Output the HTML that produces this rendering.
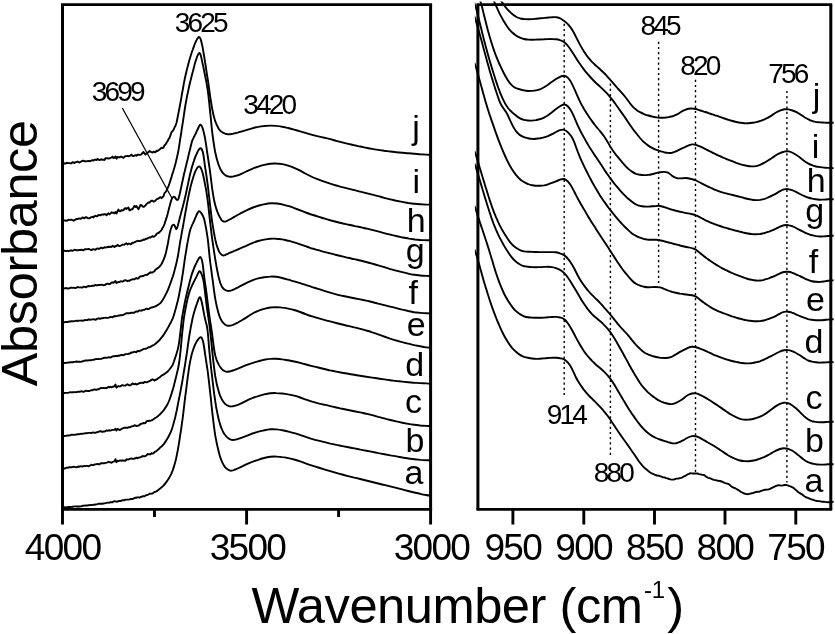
<!DOCTYPE html>
<html lang="en"><head><meta charset="utf-8"><title>FTIR spectra</title>
<style>html,body{margin:0;padding:0;background:#fff}body{width:835px;height:634px;overflow:hidden}svg{display:block}</style>
</head><body>
<svg width="835" height="634" viewBox="0 0 835 634">
<defs><clipPath id="cl"><rect x="62.5" y="4.7" width="370.6" height="504.8"/></clipPath>
<clipPath id="cr"><rect x="474.9" y="1.4" width="358.7" height="508"/></clipPath></defs>
<rect width="835" height="634" fill="#fff"/>
<g fill="none" stroke="#000" stroke-width="1.9" stroke-linejoin="round" stroke-linecap="butt" clip-path="url(#cl)">
<path d="M62.5,507.4L63.5,507.3 64.5,507.3 65.5,507.4 66.5,507.3 67.5,507.1 68.5,507 69.5,506.9 70.5,507 71.5,506.9 72.5,506.8 73.5,506.7 74.5,506.4 75.5,506.4 76.5,506.5 77.5,506.4 78.5,506.5 79.5,506.5 80.5,506.4 81.5,506.2 82.5,505.8 83.5,505.7 84.5,505.6 85.5,505.5 86.5,505.5 87.5,505.5 88.5,505.3 89.5,505.1 90.5,505 91.5,505.1 92.5,504.9 93.5,504.7 94.5,504.8 95.5,504.5 96.5,504.4 97.5,504.1 98.5,503.7 99.5,503.8 100.5,503.8 101.5,503.7 102.5,503.7 103.5,503.5 104.5,503.4 105.5,503.1 106.5,502.9 107.5,502.6 108.5,502.6 109.5,502.7 110.5,502.2 111.5,502.2 112.5,502.2 113.5,501.5 114.5,501.3 115.5,501.4 116.5,501.7 117.5,501.5 118.5,501.1 119.5,500.8 120.5,501.1 121.5,500.6 122.5,500.2 123.5,500.2 124.5,500.2 125.5,499.6 126.5,499.6 127.5,499.6 128.5,499.6 129.5,499.4 130.5,499 131.5,498.9 132.5,499 133.5,498.7 134.5,497.9 135.5,497.8 136.5,497.7 137.5,497.3 138.5,497.4 139.5,497.7 140.5,497 141.5,496.9 142.5,496.3 143.5,496.2 144.5,496.3 145.5,495.5 146.5,495.1 147.5,495 148.5,494.5 149.5,493.8 150.5,493.7 151.5,493.6 152.5,493.5 153.5,492.7 154.5,492.2 155.5,491.7 156.5,491.3 157.5,490.6 158.5,489.8 159.5,489.1L160.5,488.3C162.5,486.8 164.5,484.9 166.5,481.9C166.9,481.3 167.3,480.7 167.8,480C168.2,479.4 168.6,478.7 169,478.1C169.4,477.4 169.8,476.7 170.2,475.9C170.7,475.1 171.1,474.2 171.5,473.3C171.9,472.3 172.3,471.2 172.8,470.1C173.2,468.9 173.6,467.7 174,466.4C174.4,465.1 174.8,463.8 175.2,462.2C175.7,460.6 176.1,458.7 176.5,456.6C176.9,454.6 177.3,452.4 177.8,450.2C178.2,447.9 178.6,445.6 179,443.1C179.4,440.6 179.8,438 180.2,435.2C180.7,432.5 181.1,429.6 181.5,426.6C181.9,423.6 182.3,420.5 182.8,417.3C183.2,414 183.6,410.6 184,407.1C184.4,403.7 184.8,400.2 185.2,396.8C185.7,393.4 186.1,390.2 186.5,386.8C186.9,383.5 187.3,380.1 187.8,377C188.2,373.8 188.6,370.8 189,368.1C189.4,365.5 189.8,363.2 190.2,361.1C190.7,359 191.1,357.1 191.5,355.3C191.9,353.6 192.3,352.1 192.8,350.8C193.2,349.5 193.6,348.4 194,347.4C194.4,346.3 194.8,345.3 195.2,344.3C195.7,343.4 196.1,342.6 196.5,341.9C196.9,341.1 197.3,340.5 197.8,339.9C198.2,339.4 198.6,338.8 199,338.4C199.4,338 199.8,337.6 200.2,337.4C200.7,337.2 201.1,337.1 201.5,337.5C201.9,338 202.3,339.1 202.8,340.6C203.2,342 203.6,344 204,346.5C204.4,348.9 204.8,351.9 205.2,354.9C205.7,357.9 206.1,360.7 206.5,363.3C206.9,366 207.3,368.7 207.8,371.8C208.2,374.9 208.6,378.4 209,381.9C209.4,385.4 209.8,389.1 210.2,392.9C210.7,396.8 211.1,400.8 211.5,404.9C211.9,409 212.3,413.1 212.8,416.7C213.2,420.4 213.6,423.6 214,426.7C214.4,429.7 214.8,432.6 215.2,435.1C215.7,437.7 216.1,440 216.5,442C216.9,444.1 217.3,445.9 217.8,447.7C218.2,449.5 218.6,451.3 219,452.8C219.4,454.4 219.8,455.8 220.2,457.2C220.7,458.5 221.1,459.6 221.5,460.7C221.9,461.7 222.3,462.6 222.8,463.4C223.2,464.2 223.6,464.9 224,465.6C224.4,466.2 224.8,466.8 225.2,467.3C225.7,467.8 226.1,468.2 226.5,468.6C226.9,468.9 227.3,469.2 227.8,469.5C228.2,469.8 228.6,470 229,470.2C229.4,470.4 229.8,470.5 230.2,470.6C230.7,470.7 231.1,470.7 231.5,470.7C231.9,470.6 232.3,470.5 232.8,470.4C233.2,470.3 233.6,470.2 234,470C234.4,469.8 234.8,469.7 235.2,469.5C235.7,469.3 236.1,469.1 236.5,469C236.9,468.8 237.3,468.6 237.8,468.4C238.2,468.2 238.6,468 239,467.9C239.4,467.7 239.8,467.5 240.2,467.3C242.2,466.4 244.2,465.4 246.2,464.4C248.2,463.5 250.2,462.6 252.2,461.9C254.2,461.1 256.2,460.4 258.2,459.8C260.2,459.1 262.2,458.5 264.2,458C266.2,457.5 268.2,457.1 270.2,456.8C272.2,456.6 274.2,456.5 276.2,456.6C278.2,456.7 280.2,456.8 282.2,457.1C284.2,457.3 286.2,457.7 288.2,458.1C290.2,458.5 292.2,458.9 294.2,459.5C296.2,460 298.2,460.7 300.2,461.4C302.2,462.1 304.2,462.8 306.2,463.6C308.2,464.3 310.2,465 312.2,465.6C314.2,466.3 316.2,466.9 318.2,467.5C320.2,468.2 322.2,468.8 324.2,469.4C326.2,470 328.2,470.6 330.2,471.2C332.2,471.8 334.2,472.4 336.2,472.9C338.2,473.5 340.2,474 342.2,474.5C344.2,475.1 346.2,475.6 348.2,476.1C350.2,476.6 352.2,477.1 354.2,477.6C356.2,478 358.2,478.5 360.2,479C362.2,479.5 364.2,480 366.2,480.5C368.2,481 370.2,481.5 372.2,482C374.2,482.5 376.2,483 378.2,483.5C380.2,484 382.2,484.4 384.2,484.9C386.2,485.4 388.2,485.9 390.2,486.4C392.2,486.9 394.2,487.4 396.2,487.9C398.2,488.4 400.2,488.9 402.2,489.4C404.2,490 406.2,490.5 408.2,491C410.2,491.5 412.2,492 414.2,492.5C416.2,493 418.2,493.4 420.2,493.8C422.2,494.3 424.2,494.7 426.2,495C427.5,495.3 428.8,495.5 430,495.6"/>
<path d="M62.5,468.7L63.5,468.7 64.5,468.6 65.5,468.1 66.5,467.7 67.5,467.8 68.5,467.5 69.5,467.2 70.5,467.3 71.5,467.3 72.5,467.1 73.5,466.7 74.5,466.9 75.5,467.1 76.5,467.3 77.5,466.8 78.5,466.5 79.5,466.7 80.5,466.2 81.5,466.4 82.5,466.5 83.5,466.1 84.5,466 85.5,466.1 86.5,465.9 87.5,465.9 88.5,466.3 89.5,465.9 90.5,465.3 91.5,464.7 92.5,465.1 93.5,465.1 94.5,464.5 95.5,464.4 96.5,464.1 97.5,464 98.5,464.2 99.5,464.4 100.5,463.5 101.5,463.3 102.5,463.3 103.5,463.1 104.5,463.2 105.5,462.9 106.5,462.7 107.5,462.4 108.5,461.8 109.5,462.1 110.5,462.3 111.5,462.9 112.5,462 113.5,461.5 114.5,461.4 115.5,459.2 116.5,462.2 117.5,460.7 118.5,461.1 119.5,460.7 120.5,460.4 121.5,460.8 122.5,460.5 123.5,460.5 124.5,460.7 125.5,460.7 126.5,459.2 127.5,459.6 128.5,459.5 129.5,459 130.5,458.6 131.5,458.4 132.5,458.9 133.5,458.9 134.5,458.5 135.5,458.3 136.5,457.6 137.5,458.2 138.5,457.6 139.5,457.5 140.5,457.1 141.5,456.9 142.5,456 143.5,456.3 144.5,456.3 145.5,456 146.5,455.3 147.5,454 148.5,454.3 149.5,454.3 150.5,454.4 151.5,453.2 152.5,453.6 153.5,453.3 154.5,452 155.5,451.7 156.5,451 157.5,450.1 158.5,449.2 159.5,448.3 160.5,447.2 161.5,446.5 162.5,445.5 163.5,444.4L164.5,443.1C166.5,440.4 168.5,437.5 170.5,432.7C170.9,431.7 171.3,430.6 171.8,429.4C172.2,428.2 172.6,426.8 173,425.4C173.4,424 173.8,422.6 174.2,421C174.7,419.5 175.1,417.9 175.5,416.1C175.9,414.2 176.3,412.2 176.8,410.2C177.2,408.1 177.6,406 178,403.9C178.4,401.8 178.8,399.7 179.2,397.6C179.7,395.5 180.1,393.3 180.5,391.1C180.9,388.9 181.3,386.6 181.8,384.3C182.2,382 182.6,379.6 183,377.2C183.4,374.8 183.8,372.3 184.2,369.7C184.7,367.2 185.1,364.6 185.5,361.9C185.9,359.2 186.3,356.4 186.8,353.5C187.2,350.6 187.6,347.6 188,344.7C188.4,341.8 188.8,339.1 189.2,336.5C189.7,333.9 190.1,331.4 190.5,328.9C190.9,326.5 191.3,324.2 191.8,322.2C192.2,320.1 192.6,318.2 193,316.6C193.4,314.9 193.8,313.3 194.2,311.9C194.7,310.5 195.1,309.1 195.5,307.8C195.9,306.5 196.3,305.3 196.8,304.1C197.2,302.9 197.6,301.8 198,300.6C198.4,299.4 198.8,298.3 199.2,297.6C199.7,297 200.1,296.9 200.5,297.8C200.9,298.7 201.3,300.4 201.8,302.3C202.2,304.2 202.6,306.2 203,308.3C203.4,310.5 203.8,312.8 204.2,314.9C204.7,317 205.1,318.9 205.5,320.6C205.9,322.3 206.3,323.8 206.8,325.8C207.2,327.7 207.6,330.2 208,334.5C208.4,338.8 208.8,344.7 209.2,349.6C209.7,354.5 210.1,358.6 210.5,362.5C210.9,366.5 211.3,370.2 211.8,373.8C212.2,377.4 212.6,381 213,384.4C213.4,387.9 213.8,391.1 214.2,394.2C214.7,397.3 215.1,400.3 215.5,403C215.9,405.7 216.3,408.2 216.8,410.3C217.2,412.5 217.6,414.4 218,416.2C218.4,418.1 218.8,419.8 219.2,421.3C219.7,422.9 220.1,424.3 220.5,425.6C220.9,426.9 221.3,428 221.8,429C222.2,430 222.6,430.9 223,431.6C223.4,432.4 223.8,433.2 224.2,433.8C224.7,434.5 225.1,435 225.5,435.5C225.9,436.1 226.3,436.5 226.8,436.9C227.2,437.3 227.6,437.6 228,437.9C228.4,438.2 228.8,438.5 229.2,438.8C229.7,439 230.1,439.3 230.5,439.5C230.9,439.6 231.3,439.8 231.8,439.9C232.2,440 232.6,440 233,440C233.4,440 233.8,440 234.2,439.9C234.7,439.8 235.1,439.8 235.5,439.7C235.9,439.6 236.3,439.4 236.8,439.3C237.2,439.2 237.6,439.1 238,438.9C238.4,438.8 238.8,438.7 239.2,438.5C239.7,438.4 240.1,438.3 240.5,438.1C242.5,437.4 244.5,436.7 246.5,435.9C248.5,435.1 250.5,434.2 252.5,433.5C254.5,432.9 256.5,432.3 258.5,431.7C260.5,431.2 262.5,430.6 264.5,430.2C266.5,429.8 268.5,429.5 270.5,429.3C272.5,429.2 274.5,429.2 276.5,429.4C278.5,429.6 280.5,429.9 282.5,430.3C284.5,430.7 286.5,431.1 288.5,431.6C290.5,432.1 292.5,432.6 294.5,433.2C296.5,433.7 298.5,434.4 300.5,435.1C302.5,435.8 304.5,436.5 306.5,437.2C308.5,437.9 310.5,438.6 312.5,439.1C314.5,439.7 316.5,440.2 318.5,440.7C320.5,441.2 322.5,441.7 324.5,442.2C326.5,442.7 328.5,443.1 330.5,443.6C332.5,444 334.5,444.4 336.5,444.9C338.5,445.3 340.5,445.7 342.5,446.1C344.5,446.5 346.5,446.9 348.5,447.3C350.5,447.7 352.5,448.1 354.5,448.4C356.5,448.8 358.5,449.2 360.5,449.6C362.5,449.9 364.5,450.3 366.5,450.7C368.5,451.1 370.5,451.5 372.5,451.9C374.5,452.3 376.5,452.7 378.5,453.1C380.5,453.4 382.5,453.8 384.5,454.2C386.5,454.6 388.5,455 390.5,455.4C392.5,455.7 394.5,456.1 396.5,456.4C398.5,456.8 400.5,457.1 402.5,457.5C404.5,457.8 406.5,458.2 408.5,458.5C410.5,458.8 412.5,459.1 414.5,459.3C416.5,459.5 418.5,459.7 420.5,459.9C422.5,460 424.5,460.1 426.5,460.2C427.7,460.3 428.8,460.3 430,460.3"/>
<path d="M62.5,436L63.5,436.2 64.5,436 65.5,435.9 66.5,435.7 67.5,435.4 68.5,435.5 69.5,435.4 70.5,435.2 71.5,434.6 72.5,434.7 73.5,434.9 74.5,434.8 75.5,434.6 76.5,434.5 77.5,434.1 78.5,434.2 79.5,434.1 80.5,433.8 81.5,433.9 82.5,433.7 83.5,433.6 84.5,433.4 85.5,433.3 86.5,433.2 87.5,433.1 88.5,432.9 89.5,432.9 90.5,432.9 91.5,433 92.5,432.6 93.5,432.4 94.5,432.9 95.5,432.7 96.5,432.3 97.5,432.2 98.5,431.6 99.5,431.5 100.5,431.1 101.5,431.5 102.5,432 103.5,431.4 104.5,431.6 105.5,431 106.5,430.4 107.5,430.8 108.5,430.5 109.5,430.3 110.5,430.6 111.5,430.2 112.5,429.9 113.5,429.9 114.5,429.9 115.5,428.7 116.5,430.6 117.5,429 118.5,429.2 119.5,430 120.5,429.6 121.5,429 122.5,428.4 123.5,428.1 124.5,427.6 125.5,427.8 126.5,427.8 127.5,427.9 128.5,427.2 129.5,427.3 130.5,427 131.5,426.4 132.5,426.2 133.5,426 134.5,425.2 135.5,425.6 136.5,426 137.5,425.9 138.5,425.5 139.5,425.1 140.5,424 141.5,423.8 142.5,423.4 143.5,423 144.5,423.4 145.5,422.9 146.5,421.3 147.5,420.9 148.5,421 149.5,420.8 150.5,420.7 151.5,420.4 152.5,419.9 153.5,419.3 154.5,418.5 155.5,417.8 156.5,417.2 157.5,416.5 158.5,415.6 159.5,414.7L160.5,413.8C162.5,411.9 164.5,409.6 166.5,406C166.9,405.3 167.3,404.5 167.8,403.7C168.2,402.9 168.6,402 169,401C169.4,400 169.8,398.9 170.2,397.7C170.7,396.5 171.1,395.2 171.5,393.8C171.9,392.5 172.3,391 172.8,389.6C173.2,388.2 173.6,386.8 174,385.2C174.4,383.7 174.8,382 175.2,380.3C175.7,378.6 176.1,376.8 176.5,375.1C176.9,373.3 177.3,371.5 177.8,369.7C178.2,367.8 178.6,365.9 179,363.5C179.4,361 179.8,358 180.2,354C180.7,350 181.1,345.1 181.5,340.5C181.9,335.9 182.3,331.6 182.8,327.6C183.2,323.6 183.6,320.1 184,317.4C184.4,314.7 184.8,312.5 185.2,310.3C185.7,308.1 186.1,305.8 186.5,303.8C186.9,301.8 187.3,299.9 187.8,298.1C188.2,296.4 188.6,294.7 189,293.4C189.4,292 189.8,290.8 190.2,289.8C190.7,288.7 191.1,287.7 191.5,286.8C191.9,285.8 192.3,284.9 192.8,284.1C193.2,283.2 193.6,282.4 194,281.5C194.4,280.7 194.8,279.9 195.2,279.1C195.7,278.2 196.1,277.4 196.5,276.6C196.9,275.7 197.3,274.7 197.8,273.9C198.2,273 198.6,272.2 199,271.7C199.4,271.2 199.8,271 200.2,271.5C200.7,272 201.1,273 201.5,274C201.9,275 202.3,276.2 202.8,277.7C203.2,279.2 203.6,281.1 204,283.9C204.4,286.7 204.8,290.3 205.2,293.8C205.7,297.4 206.1,301 206.5,304.5C206.9,307.9 207.3,311.1 207.8,313.8C208.2,316.5 208.6,318.9 209,321.8C209.4,324.7 209.8,327.9 210.2,331.5C210.7,335.2 211.1,339.3 211.5,343.6C211.9,347.8 212.3,352.3 212.8,356.3C213.2,360.3 213.6,363.7 214,366.9C214.4,370.2 214.8,373.4 215.2,376C215.7,378.7 216.1,380.9 216.5,382.8C216.9,384.8 217.3,386.5 217.8,388.1C218.2,389.7 218.6,391.1 219,392.4C219.4,393.7 219.8,394.8 220.2,395.8C220.7,396.9 221.1,397.8 221.5,398.7C221.9,399.5 222.3,400.3 222.8,400.9C223.2,401.6 223.6,402.2 224,402.7C224.4,403.2 224.8,403.6 225.2,404C225.7,404.3 226.1,404.6 226.5,404.9C226.9,405.2 227.3,405.4 227.8,405.6C228.2,405.9 228.6,406 229,406.2C229.4,406.3 229.8,406.4 230.2,406.4C230.7,406.5 231.1,406.5 231.5,406.4C231.9,406.4 232.3,406.3 232.8,406.3C233.2,406.2 233.6,406.1 234,406C234.4,405.9 234.8,405.8 235.2,405.7C235.7,405.6 236.1,405.4 236.5,405.3C236.9,405.2 237.3,405 237.8,404.9C238.2,404.7 238.6,404.5 239,404.4C239.4,404.2 239.8,404 240.2,403.8C242.2,402.9 244.2,401.8 246.2,400.8C248.2,399.8 250.2,398.8 252.2,398.1C254.2,397.3 256.2,396.7 258.2,396.1C260.2,395.4 262.2,394.9 264.2,394.4C266.2,393.9 268.2,393.5 270.2,393.3C272.2,393.1 274.2,393 276.2,393.1C278.2,393.1 280.2,393.3 282.2,393.5C284.2,393.7 286.2,394 288.2,394.4C290.2,394.7 292.2,395.2 294.2,395.7C296.2,396.2 298.2,396.8 300.2,397.5C302.2,398.2 304.2,399 306.2,399.7C308.2,400.4 310.2,401.1 312.2,401.7C314.2,402.2 316.2,402.7 318.2,403.3C320.2,403.8 322.2,404.3 324.2,404.7C326.2,405.2 328.2,405.7 330.2,406.1C332.2,406.6 334.2,407.1 336.2,407.5C338.2,407.9 340.2,408.4 342.2,408.8C344.2,409.2 346.2,409.6 348.2,410C350.2,410.4 352.2,410.8 354.2,411.2C356.2,411.6 358.2,412 360.2,412.4C362.2,412.8 364.2,413.3 366.2,413.7C368.2,414.2 370.2,414.7 372.2,415.2C374.2,415.7 376.2,416.2 378.2,416.8C380.2,417.3 382.2,417.9 384.2,418.4C386.2,419 388.2,419.5 390.2,420C392.2,420.5 394.2,421 396.2,421.4C398.2,421.9 400.2,422.3 402.2,422.7C404.2,423.1 406.2,423.5 408.2,423.9C410.2,424.3 412.2,424.6 414.2,424.8C416.2,425.1 418.2,425.3 420.2,425.5C422.2,425.6 424.2,425.8 426.2,425.9C427.5,425.9 428.8,426 430,426"/>
<path d="M62.5,392.6L63.5,392.7 64.5,393.1 65.5,392.9 66.5,392.9 67.5,392.9 68.5,392.7 69.5,392.4 70.5,392.3 71.5,392.4 72.5,392.2 73.5,392.3 74.5,392.1 75.5,392.1 76.5,392.2 77.5,391.9 78.5,391.6 79.5,391.8 80.5,391.6 81.5,391.1 82.5,391.6 83.5,391.9 84.5,391.3 85.5,390.8 86.5,390.8 87.5,391.1 88.5,391 89.5,391 90.5,390.5 91.5,390.2 92.5,390.2 93.5,389.6 94.5,389.3 95.5,389.7 96.5,389.8 97.5,389.3 98.5,389.4 99.5,388.7 100.5,388.1 101.5,388 102.5,388.1 103.5,388 104.5,388.1 105.5,387.8 106.5,388.2 107.5,387.4 108.5,386.9 109.5,387.4 110.5,386.8 111.5,387.3 112.5,386.9 113.5,386.5 114.5,386.3 115.5,384.5 116.5,387.7 117.5,386.6 118.5,386.1 119.5,386.4 120.5,386.3 121.5,385.5 122.5,385.2 123.5,385.5 124.5,385.6 125.5,385.5 126.5,384.6 127.5,384.3 128.5,385 129.5,385.4 130.5,385.4 131.5,384.3 132.5,383.4 133.5,384.1 134.5,384.2 135.5,383.7 136.5,384.6 137.5,384 138.5,383.8 139.5,383 140.5,383.1 141.5,382.7 142.5,382.8 143.5,383 144.5,381.9 145.5,382.1 146.5,382.4 147.5,382 148.5,381.5 149.5,381.2 150.5,380.6 151.5,379.9 152.5,379.3 153.5,379.8 154.5,380.6 155.5,379.7 156.5,379.6 157.5,378.9 158.5,378 159.5,377.4 160.5,376.7 161.5,375.7 162.5,375 163.5,374.6 164.5,373.9 165.5,373.3L166.5,372.5C166.9,372.2 167.3,371.8 167.8,371.4C168.2,370.9 168.6,370.5 169,370C169.4,369.5 169.8,369 170.2,368.5C170.7,368 171.1,367.4 171.5,366.8C171.9,366.2 172.3,365.6 172.8,364.6C173.2,363.7 173.6,362.5 174,361.3C174.4,360 174.8,358.8 175.2,357.6C175.7,356.4 176.1,355.1 176.5,353.7C176.9,352.4 177.3,350.9 177.8,349.2C178.2,347.6 178.6,345.6 179,343.1C179.4,340.5 179.8,337.4 180.2,333.8C180.7,330.3 181.1,325.9 181.5,322.1C181.9,318.4 182.3,315.7 182.8,313.4C183.2,311.1 183.6,309.1 184,306.9C184.4,304.8 184.8,302.6 185.2,300.6C185.7,298.5 186.1,296.6 186.5,294.7C186.9,292.9 187.3,291.2 187.8,289.6C188.2,287.9 188.6,286.3 189,284.7C189.4,283.1 189.8,281.5 190.2,279.9C190.7,278.3 191.1,276.8 191.5,275.3C191.9,273.9 192.3,272.6 192.8,271.5C193.2,270.3 193.6,269.3 194,268.3C194.4,267.3 194.8,266.4 195.2,265.5C195.7,264.6 196.1,263.7 196.5,262.9C196.9,262 197.3,261.1 197.8,260.3C198.2,259.5 198.6,258.7 199,258.1C199.4,257.5 199.8,256.9 200.2,256.9C200.7,256.9 201.1,257.6 201.5,258.8C201.9,259.9 202.3,261.6 202.8,264.6C203.2,267.6 203.6,271.9 204,275.3C204.4,278.8 204.8,281.5 205.2,284.2C205.7,286.9 206.1,289.8 206.5,293.1C206.9,296.4 207.3,300.1 207.8,303.5C208.2,306.9 208.6,310.1 209,313.2C209.4,316.3 209.8,319.1 210.2,321.7C210.7,324.3 211.1,326.7 211.5,329.6C211.9,332.5 212.3,335.9 212.8,339.3C213.2,342.6 213.6,345.8 214,348.5C214.4,351.2 214.8,353.6 215.2,355.3C215.7,357 216.1,358.4 216.5,359.6C216.9,360.7 217.3,361.7 217.8,362.6C218.2,363.5 218.6,364.3 219,365.1C219.4,365.8 219.8,366.4 220.2,367C220.7,367.7 221.1,368.2 221.5,368.7C221.9,369.1 222.3,369.5 222.8,369.9C223.2,370.2 223.6,370.5 224,370.8C224.4,371 224.8,371.2 225.2,371.4C225.7,371.5 226.1,371.6 226.5,371.7C226.9,371.7 227.3,371.7 227.8,371.7C228.2,371.7 228.6,371.6 229,371.5C229.4,371.5 229.8,371.4 230.2,371.3C230.7,371.2 231.1,371 231.5,370.9C231.9,370.8 232.3,370.7 232.8,370.5C233.2,370.4 233.6,370.3 234,370.1C234.4,370 234.8,369.8 235.2,369.7C235.7,369.5 236.1,369.4 236.5,369.2C236.9,369 237.3,368.9 237.8,368.7C238.2,368.5 238.6,368.4 239,368.2C239.4,368 239.8,367.9 240.2,367.7C242.2,366.9 244.2,366 246.2,365.2C248.2,364.4 250.2,363.7 252.2,363.1C254.2,362.5 256.2,361.9 258.2,361.3C260.2,360.8 262.2,360.2 264.2,359.8C266.2,359.4 268.2,359 270.2,358.9C272.2,358.7 274.2,358.7 276.2,358.8C278.2,358.9 280.2,359.1 282.2,359.4C284.2,359.6 286.2,360 288.2,360.3C290.2,360.7 292.2,361.1 294.2,361.5C296.2,361.9 298.2,362.4 300.2,362.9C302.2,363.5 304.2,364 306.2,364.5C308.2,365.1 310.2,365.6 312.2,366.1C314.2,366.6 316.2,367.1 318.2,367.5C320.2,368 322.2,368.5 324.2,369C326.2,369.5 328.2,369.9 330.2,370.4C332.2,370.8 334.2,371.2 336.2,371.6C338.2,372 340.2,372.4 342.2,372.8C344.2,373.1 346.2,373.5 348.2,373.8C350.2,374.2 352.2,374.5 354.2,374.8C356.2,375.2 358.2,375.5 360.2,375.8C362.2,376.1 364.2,376.4 366.2,376.7C368.2,377 370.2,377.3 372.2,377.6C374.2,377.9 376.2,378.2 378.2,378.5C380.2,378.8 382.2,379.1 384.2,379.4C386.2,379.7 388.2,380 390.2,380.2C392.2,380.5 394.2,380.7 396.2,381C398.2,381.2 400.2,381.4 402.2,381.6C404.2,381.8 406.2,382 408.2,382.2C410.2,382.4 412.2,382.5 414.2,382.7C416.2,382.8 418.2,383 420.2,383.1C422.2,383.2 424.2,383.3 426.2,383.4C427.5,383.5 428.8,383.6 430,383.6"/>
<path d="M62.5,363.3L63.5,363.2 64.5,363 65.5,362.9 66.5,362.8 67.5,362.6 68.5,362.4 69.5,362.5 70.5,362.1 71.5,362.2 72.5,362.3 73.5,362 74.5,361.9 75.5,361.8 76.5,361.5 77.5,361.7 78.5,361.7 79.5,361.7 80.5,361.9 81.5,361.6 82.5,361.2 83.5,361.3 84.5,360.7 85.5,360.4 86.5,360.5 87.5,360.5 88.5,360.4 89.5,360.3 90.5,360.3 91.5,360.1 92.5,359.9 93.5,359.8 94.5,359.5 95.5,359.2 96.5,358.9 97.5,359.1 98.5,359 99.5,359.1 100.5,358.9 101.5,358.9 102.5,358.3 103.5,358 104.5,357.7 105.5,357.6 106.5,357.9 107.5,357.6 108.5,357.3 109.5,357.3 110.5,357.6 111.5,357 112.5,356.4 113.5,356.3 114.5,356.3 115.5,356 116.5,356 117.5,356.1 118.5,355.5 119.5,355.7 120.5,355.1 121.5,354.9 122.5,355 123.5,355.2 124.5,354.6 125.5,354.1 126.5,354.1 127.5,354.1 128.5,353.7 129.5,353.8 130.5,353.1 131.5,352.4 132.5,352.5 133.5,352.2 134.5,351.6 135.5,352.1 136.5,352.2 137.5,350.9 138.5,351 139.5,351.3 140.5,350.4 141.5,350.3 142.5,349.6 143.5,349 144.5,348.9 145.5,348.8 146.5,348.5 147.5,348 148.5,347.2 149.5,347.3 150.5,346.9 151.5,346.1 152.5,345.5 153.5,345.3 154.5,344.7 155.5,343.7 156.5,342.8 157.5,342 158.5,341 159.5,340L160.5,338.9C162.5,336.7 164.5,333.9 166.5,330.3C166.9,329.6 167.3,328.8 167.8,328C168.2,327.3 168.6,326.5 169,325.8C169.4,325 169.8,324.3 170.2,323.5C170.7,322.8 171.1,322 171.5,321.1C171.9,320.3 172.3,319.4 172.8,318.3C173.2,317.3 173.6,316.1 174,314.8C174.4,313.4 174.8,312 175.2,310.5C175.7,309 176.1,307.4 176.5,305.8C176.9,304.2 177.3,302.6 177.8,300.8C178.2,299.1 178.6,297.2 179,295.2C179.4,293.2 179.8,291.1 180.2,288.8C180.7,286.6 181.1,284.3 181.5,281.7C181.9,279.2 182.3,276.4 182.8,273.5C183.2,270.6 183.6,267.7 184,264.8C184.4,261.9 184.8,259.2 185.2,256.5C185.7,253.8 186.1,251.2 186.5,248.6C186.9,246.1 187.3,243.6 187.8,241.4C188.2,239.1 188.6,237 189,235.1C189.4,233.1 189.8,231.3 190.2,229.9C190.7,228.5 191.1,227.5 191.5,226.5C191.9,225.4 192.3,224.5 192.8,223.6C193.2,222.7 193.6,221.9 194,221C194.4,220.1 194.8,219.1 195.2,218.1C195.7,217.2 196.1,216.1 196.5,215.1C196.9,214.2 197.3,213.3 197.8,212.6C198.2,211.9 198.6,211.4 199,211.2C199.4,211.1 199.8,211.4 200.2,211.8C200.7,212.3 201.1,212.9 201.5,213.5C201.9,214.1 202.3,214.8 202.8,215.6C203.2,216.4 203.6,217.4 204,218.6C204.4,219.9 204.8,221.7 205.2,223.9C205.7,226 206.1,228.4 206.5,230.9C206.9,233.3 207.3,235.9 207.8,239.2C208.2,242.4 208.6,246.6 209,250.7C209.4,254.9 209.8,258.8 210.2,262.2C210.7,265.5 211.1,268.6 211.5,271.6C211.9,274.6 212.3,277.7 212.8,280.9C213.2,284.1 213.6,287.4 214,290.4C214.4,293.4 214.8,296.2 215.2,298.6C215.7,301 216.1,303.2 216.5,305.1C216.9,307.1 217.3,308.8 217.8,310.4C218.2,312 218.6,313.5 219,314.7C219.4,316 219.8,317 220.2,318C220.7,319 221.1,319.8 221.5,320.5C221.9,321.2 222.3,321.9 222.8,322.4C223.2,322.9 223.6,323.3 224,323.7C224.4,324.1 224.8,324.4 225.2,324.7C225.7,325 226.1,325.2 226.5,325.4C226.9,325.6 227.3,325.7 227.8,325.7C228.2,325.8 228.6,325.8 229,325.8C229.4,325.8 229.8,325.7 230.2,325.6C230.7,325.5 231.1,325.4 231.5,325.3C231.9,325.2 232.3,325 232.8,324.9C233.2,324.7 233.6,324.6 234,324.4C234.4,324.2 234.8,324 235.2,323.8C235.7,323.7 236.1,323.5 236.5,323.2C236.9,323 237.3,322.8 237.8,322.6C238.2,322.4 238.6,322.1 239,321.9C239.4,321.7 239.8,321.4 240.2,321.2C242.2,320 244.2,318.9 246.2,317.6C248.2,316.3 250.2,315 252.2,313.8C254.2,312.6 256.2,311.6 258.2,310.8C260.2,310 262.2,309.4 264.2,308.8C266.2,308.3 268.2,307.8 270.2,307.5C272.2,307.2 274.2,307.1 276.2,307.1C278.2,307.2 280.2,307.3 282.2,307.6C284.2,307.8 286.2,308.2 288.2,308.6C290.2,309 292.2,309.4 294.2,310C296.2,310.6 298.2,311.3 300.2,312C302.2,312.8 304.2,313.6 306.2,314.3C308.2,315.1 310.2,315.8 312.2,316.4C314.2,317.1 316.2,317.6 318.2,318.2C320.2,318.8 322.2,319.3 324.2,319.8C326.2,320.4 328.2,320.9 330.2,321.4C332.2,321.9 334.2,322.4 336.2,323C338.2,323.5 340.2,324 342.2,324.5C344.2,325 346.2,325.4 348.2,325.9C350.2,326.4 352.2,326.9 354.2,327.4C356.2,327.8 358.2,328.3 360.2,328.8C362.2,329.4 364.2,329.9 366.2,330.5C368.2,331 370.2,331.6 372.2,332.3C374.2,332.9 376.2,333.6 378.2,334.3C380.2,335 382.2,335.7 384.2,336.5C386.2,337.2 388.2,337.9 390.2,338.6C392.2,339.2 394.2,339.9 396.2,340.5C398.2,341 400.2,341.6 402.2,342.1C404.2,342.7 406.2,343.2 408.2,343.7C410.2,344.2 412.2,344.6 414.2,345.1C416.2,345.5 418.2,345.9 420.2,346.3C422.2,346.7 424.2,347.1 426.2,347.4C427.5,347.6 428.8,347.8 430,347.9"/>
<path d="M62.5,322.4L63.5,322.4 64.5,322.3 65.5,321.9 66.5,322 67.5,322 68.5,321.7 69.5,321.5 70.5,321.5 71.5,321.2 72.5,321.3 73.5,321.4 74.5,321.1 75.5,320.9 76.5,320.8 77.5,321 78.5,320.7 79.5,320.6 80.5,320.6 81.5,320.5 82.5,320.7 83.5,320.6 84.5,320.2 85.5,320 86.5,320.1 87.5,320.1 88.5,319.4 89.5,319.5 90.5,319.8 91.5,319.6 92.5,319.4 93.5,319.3 94.5,319.4 95.5,319.9 96.5,319.2 97.5,318.7 98.5,318.3 99.5,318.7 100.5,318.7 101.5,318.2 102.5,318.4 103.5,317.9 104.5,317.9 105.5,317.8 106.5,317.9 107.5,317.9 108.5,317.7 109.5,317.4 110.5,316.8 111.5,317.1 112.5,317.3 113.5,316.6 114.5,316 115.5,316.2 116.5,316.1 117.5,315.9 118.5,315.5 119.5,315.6 120.5,315.1 121.5,315.3 122.5,315.1 123.5,314.6 124.5,314.4 125.5,313.6 126.5,313.2 127.5,313.2 128.5,313.2 129.5,313.3 130.5,313 131.5,312.7 132.5,312.8 133.5,312.9 134.5,312.5 135.5,311.7 136.5,311.4 137.5,311.7 138.5,311 139.5,310.4 140.5,310.6 141.5,310.7 142.5,310.2 143.5,309.9 144.5,309.8 145.5,309.2 146.5,308.7 147.5,309 148.5,309 149.5,308.6 150.5,307.8 151.5,307.5 152.5,307.4 153.5,307 154.5,306.7 155.5,306.4 156.5,305.7 157.5,305.1 158.5,304.5 159.5,303.8L160.5,303C162.5,301.1 164.5,297 166.5,292.9C166.9,292 167.3,291.1 167.8,290.2C168.2,289.2 168.6,288.2 169,287.1C169.4,286.1 169.8,285 170.2,283.8C170.7,282.7 171.1,281.5 171.5,280.3C171.9,279.1 172.3,277.9 172.8,276.6C173.2,275.3 173.6,274 174,272.6C174.4,271.1 174.8,269.6 175.2,267.9C175.7,266.3 176.1,264.6 176.5,262.8C176.9,260.9 177.3,259 177.8,256.8C178.2,254.6 178.6,252 179,249.4C179.4,246.8 179.8,244.1 180.2,241.6C180.7,239.1 181.1,236.7 181.5,234.4C181.9,232.1 182.3,229.8 182.8,227.5C183.2,225.2 183.6,223 184,220.7C184.4,218.3 184.8,215.9 185.2,213.6C185.7,211.2 186.1,208.8 186.5,206.5C186.9,204.2 187.3,202 187.8,199.8C188.2,197.7 188.6,195.6 189,193.7C189.4,191.8 189.8,190 190.2,188.2C190.7,186.4 191.1,184.7 191.5,183.2C191.9,181.6 192.3,180.1 192.8,178.8C193.2,177.4 193.6,176.2 194,175C194.4,173.8 194.8,172.7 195.2,171.7C195.7,170.7 196.1,169.9 196.5,169.1C196.9,168.4 197.3,167.7 197.8,167.3C198.2,166.8 198.6,166.4 199,166.4C199.4,166.3 199.8,166.6 200.2,167.1C200.7,167.7 201.1,168.5 201.5,169.5C201.9,170.5 202.3,171.9 202.8,173.5C203.2,175.2 203.6,177.1 204,179C204.4,180.9 204.8,182.9 205.2,185.1C205.7,187.3 206.1,189.7 206.5,192.4C206.9,195.1 207.3,198 207.8,201.3C208.2,204.5 208.6,208.1 209,211.8C209.4,215.6 209.8,219.3 210.2,222.9C210.7,226.6 211.1,230.2 211.5,233.6C211.9,237 212.3,240.2 212.8,243.1C213.2,246 213.6,248.6 214,251.2C214.4,253.9 214.8,256.4 215.2,259C215.7,261.6 216.1,264.1 216.5,266.5C216.9,268.8 217.3,271.1 217.8,273.1C218.2,275.2 218.6,277.1 219,278.6C219.4,280.2 219.8,281.5 220.2,282.8C220.7,284 221.1,285 221.5,285.8C221.9,286.7 222.3,287.4 222.8,287.9C223.2,288.5 223.6,288.9 224,289.2C224.4,289.6 224.8,289.8 225.2,290C225.7,290.3 226.1,290.5 226.5,290.6C226.9,290.7 227.3,290.9 227.8,290.9C228.2,291 228.6,291 229,290.9C229.4,290.9 229.8,290.8 230.2,290.7C230.7,290.6 231.1,290.5 231.5,290.4C231.9,290.2 232.3,290.1 232.8,289.9C233.2,289.8 233.6,289.6 234,289.4C234.4,289.2 234.8,289 235.2,288.8C235.7,288.6 236.1,288.4 236.5,288.2C236.9,288 237.3,287.8 237.8,287.6C238.2,287.3 238.6,287.1 239,286.9C239.4,286.6 239.8,286.4 240.2,286.2C242.2,285.1 244.2,284.1 246.2,283.1C248.2,282.2 250.2,281.2 252.2,280.4C254.2,279.6 256.2,278.9 258.2,278.4C260.2,277.9 262.2,277.5 264.2,277.2C266.2,276.9 268.2,276.6 270.2,276.6C272.2,276.5 274.2,276.6 276.2,276.8C278.2,277.1 280.2,277.5 282.2,278C284.2,278.5 286.2,279.1 288.2,279.7C290.2,280.3 292.2,280.8 294.2,281.4C296.2,282 298.2,282.6 300.2,283.2C302.2,283.9 304.2,284.5 306.2,285.2C308.2,285.8 310.2,286.4 312.2,287.1C314.2,287.7 316.2,288.3 318.2,288.9C320.2,289.6 322.2,290.2 324.2,290.8C326.2,291.5 328.2,292.1 330.2,292.7C332.2,293.3 334.2,293.8 336.2,294.3C338.2,294.9 340.2,295.3 342.2,295.8C344.2,296.2 346.2,296.6 348.2,297C350.2,297.4 352.2,297.8 354.2,298.2C356.2,298.6 358.2,299 360.2,299.4C362.2,299.8 364.2,300.2 366.2,300.6C368.2,301.1 370.2,301.5 372.2,302C374.2,302.5 376.2,303 378.2,303.6C380.2,304.1 382.2,304.6 384.2,305.1C386.2,305.6 388.2,306.2 390.2,306.7C392.2,307.2 394.2,307.7 396.2,308.1C398.2,308.6 400.2,309.1 402.2,309.6C404.2,310 406.2,310.5 408.2,311C410.2,311.4 412.2,311.8 414.2,312.2C416.2,312.5 418.2,312.7 420.2,312.9C422.2,313.1 424.2,313.3 426.2,313.3C427.5,313.4 428.8,313.4 430,313.4"/>
<path d="M62.5,288.2L63.5,288.2 64.5,288.4 65.5,288.2 66.5,288 67.5,288.5 68.5,288.5 69.5,288.2 70.5,287.8 71.5,287.7 72.5,287.9 73.5,287.8 74.5,287.9 75.5,288.1 76.5,287.5 77.5,287 78.5,287.4 79.5,287.4 80.5,287.4 81.5,287.5 82.5,287.6 83.5,286.7 84.5,286.7 85.5,287.3 86.5,286.8 87.5,286.3 88.5,286 89.5,286.2 90.5,286.1 91.5,286 92.5,285.6 93.5,285.8 94.5,285.5 95.5,284.9 96.5,285.4 97.5,285.3 98.5,284.9 99.5,285 100.5,284.9 101.5,284.8 102.5,284.9 103.5,285.3 104.5,285.1 105.5,284.6 106.5,283.9 107.5,283.8 108.5,283.9 109.5,284.3 110.5,283.7 111.5,282.5 112.5,282.5 113.5,282.7 114.5,281.8 115.5,281 116.5,283.1 117.5,282.3 118.5,282 119.5,282 120.5,281.4 121.5,281.3 122.5,281.6 123.5,281.1 124.5,280.4 125.5,280.1 126.5,280.7 127.5,281.2 128.5,280.7 129.5,280.7 130.5,280 131.5,279.7 132.5,279.3 133.5,279.3 134.5,279.2 135.5,278.4 136.5,278 137.5,278.7 138.5,278.4 139.5,276.8 140.5,276.3 141.5,276.4 142.5,276 143.5,276 144.5,275.3 145.5,274.9 146.5,274.8 147.5,274.9 148.5,273.7 149.5,273.2 150.5,272.3 151.5,272.5 152.5,272.6 153.5,271.8 154.5,271.2 155.5,269.6 156.5,269 157.5,268.2 158.5,267.7 159.5,266.6 160.5,265.5 161.5,264.2 162.5,262 163.5,259.8 164.5,257.5 165.5,254.4L166.5,250.1C166.9,248.2 167.3,246.2 167.8,244C168.2,241.9 168.6,239.4 169,237.2C169.4,235 169.8,233 170.2,231.2C170.7,229.5 171.1,228.2 171.5,227.2C171.9,226.2 172.3,225.5 172.8,225.1C173.2,224.7 173.6,224.6 174,224.8C174.4,225.1 174.8,225.8 175.2,226.9C175.7,228 176.1,229.2 176.5,229C176.9,228.8 177.3,227.4 177.8,225.8C178.2,224.3 178.6,222.6 179,221C179.4,219.5 179.8,217.9 180.2,216.3C180.7,214.7 181.1,213.1 181.5,211.4C181.9,209.8 182.3,208.2 182.8,206.7C183.2,205.1 183.6,203.6 184,202C184.4,200.4 184.8,198.7 185.2,196.9C185.7,195 186.1,193.1 186.5,191C186.9,189 187.3,186.9 187.8,185C188.2,183 188.6,181.1 189,179.3C189.4,177.4 189.8,175.6 190.2,173.8C190.7,172.1 191.1,170.4 191.5,168.8C191.9,167.2 192.3,165.7 192.8,164.4C193.2,163 193.6,161.8 194,160.6C194.4,159.3 194.8,158.2 195.2,157.1C195.7,156.1 196.1,155 196.5,154.1C196.9,153.1 197.3,152.2 197.8,151.4C198.2,150.6 198.6,149.9 199,149.4C199.4,148.9 199.8,148.5 200.2,148.3C200.7,148.2 201.1,148.3 201.5,148.9C201.9,149.5 202.3,150.5 202.8,152C203.2,153.5 203.6,155.9 204,158.9C204.4,161.9 204.8,165 205.2,167.8C205.7,170.6 206.1,173.2 206.5,176.1C206.9,179 207.3,182.2 207.8,185.5C208.2,188.8 208.6,192.2 209,195.6C209.4,199 209.8,202.4 210.2,206C210.7,209.7 211.1,213.7 211.5,217.1C211.9,220.4 212.3,223.2 212.8,225.7C213.2,228.2 213.6,230.5 214,232.8C214.4,235 214.8,237.2 215.2,239.2C215.7,241.1 216.1,242.9 216.5,244.4C216.9,246 217.3,247.2 217.8,248.4C218.2,249.5 218.6,250.5 219,251.3C219.4,252.1 219.8,252.7 220.2,253.3C220.7,253.8 221.1,254.3 221.5,254.6C221.9,255 222.3,255.2 222.8,255.4C223.2,255.5 223.6,255.5 224,255.4C224.4,255.4 224.8,255.2 225.2,255C225.7,254.8 226.1,254.6 226.5,254.4C226.9,254.2 227.3,254 227.8,253.8C228.2,253.6 228.6,253.4 229,253.2C229.4,253 229.8,252.8 230.2,252.6C230.7,252.4 231.1,252.3 231.5,252.1C231.9,251.9 232.3,251.7 232.8,251.6C233.2,251.4 233.6,251.2 234,251C234.4,250.9 234.8,250.7 235.2,250.5C235.7,250.3 236.1,250.2 236.5,250C236.9,249.8 237.3,249.6 237.8,249.5C238.2,249.3 238.6,249.1 239,249C239.4,248.8 239.8,248.6 240.2,248.4C242.2,247.6 244.2,246.8 246.2,245.9C248.2,244.9 250.2,244 252.2,243.1C254.2,242.3 256.2,241.6 258.2,241C260.2,240.5 262.2,240 264.2,239.6C266.2,239.2 268.2,238.9 270.2,238.7C272.2,238.6 274.2,238.5 276.2,238.7C278.2,238.8 280.2,239.1 282.2,239.4C284.2,239.8 286.2,240.3 288.2,240.7C290.2,241.2 292.2,241.7 294.2,242.3C296.2,242.9 298.2,243.6 300.2,244.3C302.2,245 304.2,245.7 306.2,246.4C308.2,247.2 310.2,247.8 312.2,248.5C314.2,249.1 316.2,249.6 318.2,250.2C320.2,250.8 322.2,251.3 324.2,251.9C326.2,252.4 328.2,252.9 330.2,253.4C332.2,253.9 334.2,254.5 336.2,255C338.2,255.5 340.2,256 342.2,256.4C344.2,256.9 346.2,257.3 348.2,257.8C350.2,258.2 352.2,258.7 354.2,259.1C356.2,259.6 358.2,260 360.2,260.5C362.2,261 364.2,261.5 366.2,262C368.2,262.5 370.2,263 372.2,263.6C374.2,264.2 376.2,264.8 378.2,265.4C380.2,266 382.2,266.6 384.2,267.2C386.2,267.9 388.2,268.5 390.2,269.1C392.2,269.6 394.2,270.2 396.2,270.7C398.2,271.2 400.2,271.7 402.2,272.2C404.2,272.7 406.2,273.2 408.2,273.6C410.2,274.1 412.2,274.5 414.2,274.8C416.2,275.1 418.2,275.3 420.2,275.5C422.2,275.7 424.2,275.8 426.2,275.9C427.5,276 428.8,276 430,276"/>
<path d="M62.5,251L63.5,250.7 64.5,250.6 65.5,251 66.5,251.1 67.5,250.7 68.5,251.2 69.5,250.9 70.5,250.5 71.5,250.5 72.5,250.8 73.5,250.4 74.5,249.8 75.5,249.9 76.5,250.4 77.5,250.3 78.5,250.2 79.5,249.9 80.5,250 81.5,249.7 82.5,250 83.5,250.4 84.5,249.4 85.5,249.2 86.5,249.3 87.5,249.1 88.5,249 89.5,249.2 90.5,249.8 91.5,250.1 92.5,249.4 93.5,249.1 94.5,249.6 95.5,249.7 96.5,248.8 97.5,248.4 98.5,248.8 99.5,248.8 100.5,248 101.5,247.6 102.5,248.3 103.5,247.9 104.5,247.3 105.5,247.5 106.5,247.4 107.5,247 108.5,246.8 109.5,247 110.5,246.7 111.5,247 112.5,245.8 113.5,246.3 114.5,247.1 115.5,245.9 116.5,246 117.5,244.9 118.5,245.6 119.5,246.1 120.5,245.8 121.5,245.2 122.5,244.6 123.5,244.6 124.5,244.7 125.5,243.6 126.5,243.3 127.5,244.5 128.5,243.6 129.5,243.6 130.5,244.3 131.5,243.8 132.5,242.6 133.5,242.7 134.5,242.4 135.5,241.7 136.5,241.3 137.5,240.7 138.5,241.1 139.5,241 140.5,240.8 141.5,240.5 142.5,240.4 143.5,239.5 144.5,239.8 145.5,239 146.5,238.8 147.5,238.5 148.5,237.8 149.5,237.4 150.5,237.5 151.5,236.7 152.5,236.1 153.5,236.8 154.5,236.4 155.5,235.5 156.5,234.1 157.5,233.3 158.5,233.1 159.5,232 160.5,231.2 161.5,230 162.5,228 163.5,226.5 164.5,224.1 165.5,220.9 166.5,217.9 167.5,214.4L168.5,210.5C168.9,208.8 169.3,207.1 169.8,205.5C170.2,203.9 170.6,202.3 171,201.1C171.4,199.9 171.8,199 172.2,198.2C172.7,197.5 173.1,197 173.5,196.9C173.9,196.7 174.3,196.8 174.8,197.2C175.2,197.7 175.6,198.4 176,199C176.4,199.6 176.8,200 177.2,200C177.7,200 178.1,199.7 178.5,198.6C178.9,197.4 179.3,195.5 179.8,193.7C180.2,191.9 180.6,190.1 181,188.2C181.4,186.3 181.8,184.4 182.2,182.4C182.7,180.4 183.1,178.5 183.5,176.5C183.9,174.6 184.3,172.7 184.8,171C185.2,169.2 185.6,167.6 186,166C186.4,164.3 186.8,162.7 187.2,161C187.7,159.3 188.1,157.5 188.5,155.6C188.9,153.8 189.3,152 189.8,150.2C190.2,148.5 190.6,146.8 191,145.2C191.4,143.5 191.8,142 192.2,140.8C192.7,139.6 193.1,138.6 193.5,137.8C193.9,136.9 194.3,136.2 194.8,135.4C195.2,134.6 195.6,133.8 196,133C196.4,132.1 196.8,131.1 197.2,130.2C197.7,129.3 198.1,128.4 198.5,127.5C198.9,126.6 199.3,125.8 199.8,125.2C200.2,124.6 200.6,124.4 201,124.9C201.4,125.3 201.8,126.1 202.2,127.2C202.7,128.3 203.1,129.6 203.5,131.2C203.9,132.8 204.3,134.8 204.8,136.9C205.2,139.1 205.6,141.5 206,144.2C206.4,146.8 206.8,149.7 207.2,152.6C207.7,155.4 208.1,158.2 208.5,161C208.9,163.8 209.3,166.6 209.8,169.6C210.2,172.6 210.6,175.7 211,179.1C211.4,182.4 211.8,185.8 212.2,188.9C212.7,191.9 213.1,194.6 213.5,197C213.9,199.4 214.3,201.5 214.8,203.3C215.2,205.1 215.6,206.5 216,207.8C216.4,209.1 216.8,210.3 217.2,211.4C217.7,212.6 218.1,213.6 218.5,214.5C218.9,215.4 219.3,216.3 219.8,217.1C220.2,217.8 220.6,218.6 221,219.2C221.4,219.8 221.8,220.3 222.2,220.7C222.7,221.1 223.1,221.3 223.5,221.5C223.9,221.6 224.3,221.6 224.8,221.6C225.2,221.6 225.6,221.5 226,221.3C226.4,221.2 226.8,221 227.2,220.8C227.7,220.6 228.1,220.4 228.5,220.2C228.9,220 229.3,219.8 229.8,219.5C230.2,219.3 230.6,219.1 231,218.8C231.4,218.6 231.8,218.3 232.2,218.1C232.7,217.9 233.1,217.6 233.5,217.4C233.9,217.1 234.3,216.9 234.8,216.6C235.2,216.4 235.6,216.2 236,215.9C236.4,215.7 236.8,215.5 237.2,215.2C237.7,215 238.1,214.7 238.5,214.5C238.9,214.3 239.3,214 239.8,213.8C240.2,213.6 240.6,213.4 241,213.1C243,212.1 245,211.1 247,210.2C249,209.2 251,208.3 253,207.5C255,206.7 257,206 259,205.5C261,205 263,204.5 265,204.1C267,203.7 269,203.4 271,203.3C273,203.2 275,203.3 277,203.5C279,203.8 281,204.1 283,204.6C285,205.1 287,205.6 289,206.2C291,206.8 293,207.5 295,208.3C297,209.1 299,209.9 301,210.7C303,211.6 305,212.4 307,213C309,213.7 311,214.4 313,215C315,215.7 317,216.3 319,216.9C321,217.5 323,218.2 325,218.7C327,219.3 329,219.9 331,220.5C333,221 335,221.5 337,222C339,222.6 341,223 343,223.5C345,223.9 347,224.4 349,224.8C351,225.2 353,225.6 355,226.1C357,226.5 359,226.9 361,227.3C363,227.8 365,228.2 367,228.7C369,229.2 371,229.7 373,230.2C375,230.7 377,231.2 379,231.7C381,232.3 383,232.8 385,233.3C387,233.8 389,234.4 391,234.8C393,235.3 395,235.8 397,236.2C399,236.6 401,237.1 403,237.5C405,237.9 407,238.2 409,238.6C411,238.9 413,239.2 415,239.5C417,239.7 419,239.8 421,240C423,240.1 425,240.2 427,240.3C428,240.3 429,240.3 430,240.3"/>
<path d="M62.5,220.9L63.5,220.6 64.5,220.4 65.5,220.5 66.5,220.8 67.5,220.5 68.5,219.7 69.5,219.9 70.5,219.8 71.5,219.6 72.5,220.2 73.5,220.7 74.5,220.1 75.5,219.7 76.5,218.8 77.5,219.1 78.5,218.6 79.5,218.4 80.5,218.8 81.5,218.4 82.5,217.5 83.5,217.8 84.5,218.3 85.5,217.2 86.5,217.1 87.5,218 88.5,218.4 89.5,218.3 90.5,217.6 91.5,217.2 92.5,216.8 93.5,217.4 94.5,216.2 95.5,215.8 96.5,216.3 97.5,216.1 98.5,215 99.5,215.1 100.5,215.3 101.5,214.6 102.5,214.4 103.5,214.7 104.5,214.2 105.5,214.2 106.5,215.3 107.5,214 108.5,213.3 109.5,214.4 110.5,213.4 111.5,212.3 112.5,212.8 113.5,212.6 114.5,213.3 115.5,212 116.5,213.6 117.5,211.3 118.5,209.6 119.5,211.4 120.5,211.3 121.5,210 122.5,210.5 123.5,210.1 124.5,208.6 125.5,208.1 126.5,208.9 127.5,208.1 128.5,207.6 129.5,210.4 130.5,210 131.5,209.1 132.5,209.2 133.5,207.4 134.5,205.8 135.5,206.9 136.5,206.1 137.5,207.9 138.5,209.2 139.5,207 140.5,205 141.5,205.1 142.5,206.5 143.5,206.8 144.5,206.3 145.5,205.3 146.5,204 147.5,203.3 148.5,202.4 149.5,202.5 150.5,201.4 151.5,200.6 152.5,200.7 153.5,201.7 154.5,201.4 155.5,200.5 156.5,199.3 157.5,198.9 158.5,198.5 159.5,197.7 160.5,197.2 161.5,198.2 162.5,197.3 163.5,196.1 164.5,193.2 165.5,192.1 166.5,190.7 167.5,188.3 168.5,186.1 169.5,183.3 170.5,180.2 171.5,177.1 172.5,173.6 173.5,170.6 174.5,167.2 175.5,163.6L176.5,159.6C176.9,157.8 177.3,155.9 177.8,153.8C178.2,151.8 178.6,149.5 179,147.1C179.4,144.6 179.8,142 180.2,139.2C180.7,136.5 181.1,133.7 181.5,130.9C181.9,128.2 182.3,125.4 182.8,122.7C183.2,120 183.6,117.2 184,114.4C184.4,111.7 184.8,108.9 185.2,106.3C185.7,103.7 186.1,101.3 186.5,99.1C186.9,96.9 187.3,94.8 187.8,92.8C188.2,90.8 188.6,88.9 189,87.1C189.4,85.2 189.8,83.5 190.2,81.7C190.7,80 191.1,78.3 191.5,76.7C191.9,75 192.3,73.4 192.8,71.8C193.2,70.1 193.6,68.5 194,66.9C194.4,65.4 194.8,63.8 195.2,62.4C195.7,61 196.1,59.7 196.5,58.5C196.9,57.3 197.3,56.2 197.8,55.2C198.2,54.3 198.6,53.5 199,53.2C199.4,52.8 199.8,52.9 200.2,53.8C200.7,54.7 201.1,56.4 201.5,58.3C201.9,60.3 202.3,62.4 202.8,64.4C203.2,66.3 203.6,68.3 204,70.3C204.4,72.3 204.8,74.4 205.2,76.4C205.7,78.5 206.1,80.6 206.5,82.8C206.9,85.1 207.3,87.6 207.8,90.5C208.2,93.5 208.6,96.9 209,100.6C209.4,104.2 209.8,108.2 210.2,112.3C210.7,116.5 211.1,121 211.5,125.3C211.9,129.5 212.3,133.4 212.8,136.6C213.2,139.8 213.6,142.5 214,145.1C214.4,147.7 214.8,150 215.2,152C215.7,154.1 216.1,156.1 216.5,157.8C216.9,159.5 217.3,160.9 217.8,162.2C218.2,163.6 218.6,164.8 219,165.8C219.4,166.9 219.8,167.8 220.2,168.7C220.7,169.6 221.1,170.3 221.5,171C221.9,171.7 222.3,172.2 222.8,172.8C223.2,173.3 223.6,173.7 224,174.1C224.4,174.5 224.8,174.8 225.2,175.1C225.7,175.4 226.1,175.6 226.5,175.8C226.9,176 227.3,176.2 227.8,176.4C228.2,176.5 228.6,176.6 229,176.7C229.4,176.8 229.8,176.8 230.2,176.8C230.7,176.8 231.1,176.8 231.5,176.7C231.9,176.7 232.3,176.6 232.8,176.6C233.2,176.5 233.6,176.4 234,176.3C234.4,176.2 234.8,176.1 235.2,176C235.7,175.9 236.1,175.8 236.5,175.7C236.9,175.6 237.3,175.4 237.8,175.3C238.2,175.1 238.6,175 239,174.8C239.4,174.6 239.8,174.5 240.2,174.3C242.2,173.4 244.2,172.5 246.2,171.5C248.2,170.6 250.2,169.6 252.2,168.8C254.2,168 256.2,167.2 258.2,166.6C260.2,165.9 262.2,165.3 264.2,164.8C266.2,164.3 268.2,163.9 270.2,163.7C272.2,163.5 274.2,163.4 276.2,163.5C278.2,163.5 280.2,163.7 282.2,164.1C284.2,164.5 286.2,165.1 288.2,165.7C290.2,166.3 292.2,167 294.2,167.8C296.2,168.6 298.2,169.6 300.2,170.7C302.2,171.8 304.2,172.9 306.2,174C308.2,175.1 310.2,176.1 312.2,177C314.2,177.9 316.2,178.6 318.2,179.4C320.2,180.2 322.2,180.9 324.2,181.6C326.2,182.3 328.2,183 330.2,183.7C332.2,184.3 334.2,184.9 336.2,185.5C338.2,186.1 340.2,186.6 342.2,187.2C344.2,187.7 346.2,188.2 348.2,188.7C350.2,189.2 352.2,189.7 354.2,190.2C356.2,190.7 358.2,191.1 360.2,191.6C362.2,192.1 364.2,192.6 366.2,193.1C368.2,193.6 370.2,194.1 372.2,194.6C374.2,195.1 376.2,195.7 378.2,196.2C380.2,196.7 382.2,197.3 384.2,197.8C386.2,198.3 388.2,198.8 390.2,199.3C392.2,199.8 394.2,200.2 396.2,200.7C398.2,201.1 400.2,201.5 402.2,201.9C404.2,202.3 406.2,202.6 408.2,203C410.2,203.3 412.2,203.6 414.2,203.8C416.2,204 418.2,204.2 420.2,204.3C422.2,204.4 424.2,204.5 426.2,204.6C427.5,204.6 428.8,204.6 430,204.6"/>
<path d="M62.5,164.4L63.5,163.5 64.5,163.3 65.5,163.6 66.5,163 67.5,162.8 68.5,163.1 69.5,163.1 70.5,163.4 71.5,163.2 72.5,162.3 73.5,162.4 74.5,163.1 75.5,162.1 76.5,162.1 77.5,161.5 78.5,162.1 79.5,162.5 80.5,161.8 81.5,161.4 82.5,160.8 83.5,160.8 84.5,161.2 85.5,161.2 86.5,161.4 87.5,161.1 88.5,160.9 89.5,161.2 90.5,161 91.5,160.5 92.5,160.1 93.5,160.5 94.5,159.8 95.5,159.7 96.5,160.1 97.5,158.8 98.5,159.6 99.5,160.1 100.5,159.6 101.5,159.2 102.5,159.9 103.5,159.7 104.5,160 105.5,158.3 106.5,158.3 107.5,158.1 108.5,158.6 109.5,158.3 110.5,158 111.5,157.5 112.5,156.6 113.5,158.1 114.5,157.6 115.5,156.5 116.5,158.7 117.5,156.9 118.5,157.3 119.5,157.4 120.5,156.7 121.5,156.6 122.5,157.4 123.5,157.9 124.5,156.8 125.5,156.1 126.5,156.1 127.5,155.9 128.5,156.3 129.5,156 130.5,155.5 131.5,154.6 132.5,155.9 133.5,156.1 134.5,155.7 135.5,155.1 136.5,155.7 137.5,154.8 138.5,154.6 139.5,154.9 140.5,154.7 141.5,154.3 142.5,152.9 143.5,152 144.5,153.5 145.5,154.5 146.5,153.3 147.5,152.8 148.5,152.1 149.5,151 150.5,151.6 151.5,152.1 152.5,152.5 153.5,151.6 154.5,152 155.5,152.3 156.5,150.8 157.5,151 158.5,150.4 159.5,149.5 160.5,148.7 161.5,147.7 162.5,148 163.5,147.7 164.5,145.2 165.5,144.6 166.5,142.7 167.5,141.2 168.5,139.3 169.5,137.9 170.5,135.2 171.5,132.1 172.5,131.2 173.5,129.9 174.5,127.5 175.5,125.7 176.5,122.7 177.5,118 178.5,112.9 179.5,107.8 180.5,102.5L181.5,96.8C181.9,94.4 182.3,91.9 182.8,89.5C183.2,87.2 183.6,84.9 184,82.7C184.4,80.6 184.8,78.6 185.2,76.7C185.7,74.8 186.1,73 186.5,71.3C186.9,69.5 187.3,67.8 187.8,66.2C188.2,64.6 188.6,63 189,61.6C189.4,60.1 189.8,58.7 190.2,57.3C190.7,55.9 191.1,54.6 191.5,53.3C191.9,52 192.3,50.7 192.8,49.5C193.2,48.3 193.6,47.2 194,46.1C194.4,45 194.8,44 195.2,43C195.7,42 196.1,41 196.5,40.2C196.9,39.3 197.3,38.6 197.8,38.1C198.2,37.5 198.6,37.1 199,37C199.4,37 199.8,37.2 200.2,38.1C200.7,39 201.1,40.4 201.5,42.2C201.9,44 202.3,46.1 202.8,48.4C203.2,50.6 203.6,52.9 204,55.3C204.4,57.7 204.8,60.2 205.2,63C205.7,65.8 206.1,68.7 206.5,71.5C206.9,74.2 207.3,77 207.8,79.7C208.2,82.4 208.6,85.2 209,88C209.4,90.9 209.8,93.9 210.2,96.8C210.7,99.6 211.1,102.3 211.5,104.8C211.9,107.3 212.3,109.7 212.8,111.8C213.2,113.9 213.6,115.6 214,117.1C214.4,118.6 214.8,120 215.2,121.2C215.7,122.4 216.1,123.5 216.5,124.4C216.9,125.3 217.3,126.2 217.8,127C218.2,127.8 218.6,128.5 219,129.1C219.4,129.8 219.8,130.3 220.2,130.7C220.7,131.2 221.1,131.5 221.5,131.8C221.9,132.1 222.3,132.4 222.8,132.6C223.2,132.9 223.6,133.1 224,133.2C224.4,133.4 224.8,133.6 225.2,133.7C225.7,133.8 226.1,133.9 226.5,134C226.9,134.1 227.3,134.1 227.8,134.2C228.2,134.2 228.6,134.2 229,134.2C229.4,134.2 229.8,134.2 230.2,134.2C230.7,134.1 231.1,134.1 231.5,134C231.9,134 232.3,133.9 232.8,133.8C233.2,133.7 233.6,133.6 234,133.5C234.4,133.5 234.8,133.4 235.2,133.2C235.7,133.1 236.1,133 236.5,132.9C236.9,132.8 237.3,132.7 237.8,132.6C238.2,132.5 238.6,132.3 239,132.2C239.4,132.1 239.8,132 240.2,131.9C242.2,131.3 244.2,130.8 246.2,130.1C248.2,129.5 250.2,128.9 252.2,128.3C254.2,127.7 256.2,127.2 258.2,126.9C260.2,126.5 262.2,126.2 264.2,126C266.2,125.7 268.2,125.6 270.2,125.6C272.2,125.6 274.2,125.7 276.2,125.9C278.2,126.1 280.2,126.4 282.2,126.8C284.2,127.1 286.2,127.6 288.2,128C290.2,128.5 292.2,129 294.2,129.6C296.2,130.2 298.2,130.8 300.2,131.4C302.2,132 304.2,132.6 306.2,133.2C308.2,133.8 310.2,134.3 312.2,134.8C314.2,135.3 316.2,135.8 318.2,136.3C320.2,136.8 322.2,137.3 324.2,137.7C326.2,138.2 328.2,138.7 330.2,139.2C332.2,139.7 334.2,140.3 336.2,140.8C338.2,141.3 340.2,141.8 342.2,142.3C344.2,142.8 346.2,143.3 348.2,143.8C350.2,144.3 352.2,144.7 354.2,145.2C356.2,145.6 358.2,146.1 360.2,146.5C362.2,146.9 364.2,147.4 366.2,147.8C368.2,148.2 370.2,148.6 372.2,148.9C374.2,149.3 376.2,149.6 378.2,149.9C380.2,150.2 382.2,150.5 384.2,150.8C386.2,151 388.2,151.3 390.2,151.5C392.2,151.8 394.2,152 396.2,152.2C398.2,152.4 400.2,152.6 402.2,152.8C404.2,153 406.2,153.1 408.2,153.3C410.2,153.5 412.2,153.7 414.2,153.8C416.2,154 418.2,154.1 420.2,154.3C422.2,154.4 424.2,154.5 426.2,154.6C427.5,154.7 428.8,154.8 430,154.8"/>
</g>
<g fill="none" stroke="#000" stroke-width="1.9" stroke-linejoin="round" clip-path="url(#cr)">
<path d="M474,249.1C474.7,250.2 475.3,251.9 476,253.9C476.7,255.9 477.3,258.1 478,260.4C478.7,262.7 479.3,265.1 480,267.5C480.7,269.9 481.3,272.3 482,274.7C482.7,277.1 483.3,279.4 484,281.7C484.7,284 485.3,286.2 486,288.4C486.7,290.6 487.3,292.7 488,294.8C488.7,296.9 489.3,299 490,301C490.7,303 491.3,304.9 492,306.8C492.7,308.7 493.3,310.6 494,312.3C494.7,314.1 495.3,315.8 496,317.5C496.7,319.2 497.3,320.9 498,322.5C498.7,324.1 499.3,325.7 500,327.2C501.3,330.2 502.7,333 504,335.5C505.3,337.9 506.7,340.1 508,342.2C509.3,344.3 510.7,346.2 512,347.9C513.3,349.5 514.7,350.7 516,351.8C517.3,353 518.7,354 520,354.9C521.3,355.8 522.7,356.4 524,356.9C525.3,357.3 526.7,357.6 528,357.8C529.3,358.1 530.7,358.4 532,358.5C533.3,358.7 534.7,358.9 536,358.9C537.3,358.9 538.7,358.8 540,358.7C541.3,358.6 542.7,358.5 544,358.4C545.3,358.3 546.7,358.1 548,358C549.3,357.9 550.7,357.8 552,357.7C553.3,357.7 554.7,357.7 556,357.8C557.3,357.9 558.7,358 560,358.2C561.3,358.3 562.7,358.5 564,359.3C565.3,360 566.7,361.2 568,362.7C569.3,364.2 570.7,366.2 572,368.9C573.3,371.6 574.7,374.8 576,377.5C577.3,380.1 578.7,382.3 580,384.3C581.3,386.3 582.7,388.1 584,389.9C585.3,391.6 586.7,393.2 588,394.6C589.3,396.1 590.7,397.4 592,398.7C593.3,400 594.7,401.2 596,402.6C597.3,403.9 598.7,405.4 600,406.8C601.3,408.2 602.7,409.7 604,411.3C605.3,412.8 606.7,414.5 608,416.3C609.3,418.1 610.7,420.1 612,422.2C613.3,424.2 614.7,426.3 616,428.3C617.3,430.3 618.7,432.2 620,434.1C621.3,436 622.7,437.9 624,439.8C625.3,441.6 626.7,443.5 628,445.4C629.3,447.3 630.7,449.3 632,451.2C633.3,453.1 634.7,454.9 636,456.9L637.5,459.2 639,461.5 640.5,463.3 642,465.2 643.5,466.9 645,468.3 646.5,469.5 648,470.8 649.5,472 651,473.1 652.5,473.7 654,474.3 655.5,475 657,475.5 658.5,475.6 660,476.2 661.5,476.7 663,477.4 664.5,477.4 666,478.1 667.5,478.4 669,479 670.5,479.4 672,479.6 673.5,479.6 675,479.1 676.5,478.6 678,478.6 679.5,478.2 681,477.9 682.5,477.3 684,476.4 685.5,475.9 687,474.6 688.5,474.1 690,473.3 691.5,473.4 693,473.5 694.5,473.5 696,473.5 697.5,473.5 699,474.1 700.5,474.4 702,474.7 703.5,474.9 705,475.7 706.5,476.9 708,477.8 709.5,478.2 711,478.7 712.5,479.3 714,479.9 715.5,480.1 717,480.5 718.5,480.8 720,481 721.5,481.5 723,482 724.5,482.9 726,483.3 727.5,483.7 729,484.3 730.5,485.6 732,486.9 733.5,487.7 735,488.2 736.5,489 738,489.9 739.5,490.8 741,492 742.5,492.7 744,493.5 745.5,493.8 747,494.2 748.5,494.1 750,493.7 751.5,493.3 753,493 754.5,492.4 756,492 757.5,491.8 759,491.9 760.5,491.2 762,490.7 763.5,490.1 765,489.8 766.5,489.6 768,489.5 769.5,489.1 771,488.3 772.5,487.6 774,486.9 775.5,486.2 777,485.6 778.5,485.3 780,485.4 781.5,485.6 783,485.4 784.5,485 786,484.9 787.5,485.3 789,485.9 790.5,486.4 792,487.2 793.5,487.9 795,489.3 796.5,490.4 798,492 799.5,492.9 801,493.9 802.5,494.7 804,495.9 805.5,497 807,497.6 808.5,498.2 810,498.8 811.5,499.4 813,499.7 814.5,500.4 816,500.8 817.5,501.1 819,501.1 820.5,501.4 822,501.7 823.5,501.8 825,501.9 826.5,502.1 828,502.2 829.5,502.2 831,502.1 832.5,501.9 834,501.8"/>
<path d="M474,205.2C474.7,206.4 475.3,208.1 476,210.1C476.7,212.1 477.3,214.3 478,216.4C478.7,218.5 479.3,220.6 480,222.6C480.7,224.6 481.3,226.6 482,228.5C482.7,230.5 483.3,232.5 484,234.5C484.7,236.5 485.3,238.5 486,240.5C486.7,242.6 487.3,244.7 488,246.8C488.7,248.9 489.3,251 490,253.2C490.7,255.3 491.3,257.5 492,259.8C492.7,262 493.3,264.2 494,266.5C494.7,268.7 495.3,270.9 496,273C496.7,275.1 497.3,277 498,278.9C498.7,280.7 499.3,282.5 500,284.2C501.3,287.5 502.7,290.7 504,293.5C505.3,296.2 506.7,298.6 508,300.8C509.3,302.9 510.7,304.8 512,306.6C513.3,308.4 514.7,309.9 516,311.1C517.3,312.3 518.7,313.2 520,314.1C521.3,314.9 522.7,315.7 524,316.3C525.3,316.9 526.7,317.2 528,317.3C529.3,317.5 530.7,317.5 532,317.6C533.3,317.7 534.7,317.8 536,317.8C537.3,317.8 538.7,317.8 540,317.8C541.3,317.7 542.7,317.7 544,317.6C545.3,317.5 546.7,317.4 548,317.3C549.3,317.2 550.7,317.1 552,317C553.3,316.9 554.7,316.8 556,316.9C557.3,317 558.7,317.2 560,317.5C561.3,317.9 562.7,318.2 564,319.1C565.3,320 566.7,321.6 568,323.5C569.3,325.4 570.7,327.6 572,330C573.3,332.5 574.7,335.1 576,337.6C577.3,340.1 578.7,342.5 580,344.8C581.3,347.1 582.7,349.3 584,351.2C585.3,353.2 586.7,354.8 588,356.4C589.3,357.9 590.7,359.4 592,360.8C593.3,362.1 594.7,363.4 596,364.7C597.3,365.9 598.7,367 600,368.1C601.3,369.2 602.7,370.4 604,371.7C605.3,373 606.7,374.4 608,375.9C609.3,377.5 610.7,379.2 612,381.1C613.3,383 614.7,385.2 616,387.5C617.3,389.7 618.7,392.1 620,394.3C621.3,396.6 622.7,398.9 624,401.1C625.3,403.4 626.7,405.6 628,407.7C629.3,409.8 630.7,411.9 632,413.9C633.3,415.8 634.7,417.7 636,419.5C637.3,421.4 638.7,423.2 640,424.8C641.3,426.5 642.7,428 644,429.3C645.3,430.7 646.7,431.9 648,433C649.3,434.1 650.7,435.1 652,435.9C653.3,436.7 654.7,437.4 656,438C657.3,438.6 658.7,439.1 660,439.5C661.3,440 662.7,440.5 664,440.9C665.3,441.3 666.7,441.7 668,442.2C669.3,442.6 670.7,442.9 672,443.2C673.3,443.4 674.7,443.4 676,443.2C677.3,442.9 678.7,442.4 680,441.8C681.3,441.2 682.7,440.5 684,439.8C685.3,439 686.7,438.1 688,437.5C689.3,436.8 690.7,436.4 692,436.1C693.3,435.9 694.7,435.9 696,436.3C697.3,436.6 698.7,437.2 700,437.9C701.3,438.6 702.7,439.4 704,440.2C705.3,440.9 706.7,441.7 708,442.5C709.3,443.2 710.7,444 712,444.8C713.3,445.6 714.7,446.5 716,447.3C717.3,448.1 718.7,449 720,449.9C721.3,450.7 722.7,451.7 724,452.6C725.3,453.5 726.7,454.3 728,455.2C729.3,456 730.7,456.7 732,457.4C733.3,458 734.7,458.7 736,459.2C737.3,459.8 738.7,460.2 740,460.5C741.3,460.8 742.7,461 744,461.1C745.3,461.2 746.7,461.2 748,461.2C749.3,461.1 750.7,461 752,460.8C753.3,460.6 754.7,460.3 756,460C757.3,459.6 758.7,459.2 760,458.7C761.3,458.2 762.7,457.7 764,457.2C765.3,456.6 766.7,455.9 768,455.1C769.3,454.4 770.7,453.5 772,452.8C773.3,452.1 774.7,451.4 776,450.7C777.3,450.1 778.7,449.5 780,449C781.3,448.6 782.7,448.3 784,448.3C785.3,448.3 786.7,448.5 788,448.8C789.3,449.2 790.7,449.8 792,450.5C793.3,451.3 794.7,452.3 796,453.2C797.3,454.2 798.7,455.4 800,456.5C801.3,457.7 802.7,458.8 804,459.7C805.3,460.6 806.7,461.4 808,462.1C809.3,462.7 810.7,463.2 812,463.5C813.3,463.8 814.7,464 816,464.3C817.3,464.5 818.7,464.6 820,464.6C821.3,464.7 822.7,464.6 824,464.6C825.3,464.5 826.7,464.4 828,464.3C829.3,464.3 830.7,464.2 832,464.2C832.8,464.2 833.7,464.2 834.5,464.2"/>
<path d="M474,163.1C474.7,164.2 475.3,165.9 476,167.8C476.7,169.8 477.3,172 478,174.2C478.7,176.4 479.3,178.6 480,180.9C480.7,183.2 481.3,185.4 482,187.7C482.7,189.9 483.3,192.1 484,194.3C484.7,196.5 485.3,198.7 486,200.8C486.7,203 487.3,205.1 488,207.2C488.7,209.3 489.3,211.4 490,213.4C490.7,215.5 491.3,217.5 492,219.4C492.7,221.3 493.3,223.1 494,224.8C494.7,226.5 495.3,228.1 496,229.7C496.7,231.2 497.3,232.7 498,234.1C498.7,235.5 499.3,236.9 500,238.2C501.3,240.9 502.7,243.3 504,245.6C505.3,247.8 506.7,250 508,252C509.3,254.1 510.7,256.1 512,257.7C513.3,259.4 514.7,260.6 516,261.7C517.3,262.8 518.7,263.7 520,264.5C521.3,265.3 522.7,265.9 524,266.2C525.3,266.6 526.7,266.7 528,266.8C529.3,266.9 530.7,267 532,267.1C533.3,267.2 534.7,267.2 536,267.2C537.3,267.2 538.7,267.1 540,267.1C541.3,267.1 542.7,267 544,266.9C545.3,266.9 546.7,266.8 548,266.8C549.3,266.8 550.7,266.9 552,267.1C553.3,267.3 554.7,267.7 556,268.1C557.3,268.6 558.7,269.1 560,269.8C561.3,270.5 562.7,271.5 564,272.9C565.3,274.3 566.7,275.9 568,277.7C569.3,279.5 570.7,281.7 572,283.9C573.3,286.2 574.7,288.4 576,290.6C577.3,292.9 578.7,295.2 580,297.4C581.3,299.7 582.7,301.9 584,303.8C585.3,305.8 586.7,307.6 588,309.4C589.3,311.1 590.7,312.7 592,314.1C593.3,315.5 594.7,316.7 596,317.8C597.3,318.9 598.7,319.9 600,321.1C601.3,322.2 602.7,323.4 604,324.8C605.3,326.1 606.7,327.5 608,329.1C609.3,330.7 610.7,332.4 612,334.5C613.3,336.5 614.7,338.7 616,341C617.3,343.3 618.7,345.6 620,348C621.3,350.4 622.7,352.8 624,355.3C625.3,357.7 626.7,360.1 628,362.5C629.3,365 630.7,367.4 632,369.8C633.3,372.2 634.7,374.4 636,376.6C637.3,378.8 638.7,381 640,383C641.3,385 642.7,386.7 644,388.2C645.3,389.7 646.7,391.1 648,392.4C649.3,393.6 650.7,394.8 652,395.8C653.3,396.8 654.7,397.7 656,398.6C657.3,399.5 658.7,400.3 660,401C661.3,401.7 662.7,402.2 664,402.7C665.3,403.1 666.7,403.5 668,403.8C669.3,404.1 670.7,404.2 672,404.1C673.3,403.9 674.7,403.5 676,402.9C677.3,402.3 678.7,401.6 680,400.8C681.3,400 682.7,399 684,397.9C685.3,396.8 686.7,395.7 688,395C689.3,394.3 690.7,393.8 692,393.5C693.3,393.2 694.7,393.2 696,393.4C697.3,393.6 698.7,394.1 700,394.8C701.3,395.4 702.7,396.1 704,396.8C705.3,397.5 706.7,398.3 708,399.2C709.3,400 710.7,400.9 712,401.8C713.3,402.7 714.7,403.5 716,404.4C717.3,405.3 718.7,406.2 720,407.1C721.3,408.1 722.7,409 724,409.9C725.3,410.8 726.7,411.7 728,412.6C729.3,413.5 730.7,414.3 732,415C733.3,415.8 734.7,416.5 736,417.2C737.3,417.8 738.7,418.4 740,418.8C741.3,419.2 742.7,419.5 744,419.6C745.3,419.7 746.7,419.7 748,419.6C749.3,419.6 750.7,419.4 752,419.2C753.3,419 754.7,418.6 756,418.2C757.3,417.8 758.7,417.3 760,416.7C761.3,416.1 762.7,415.5 764,414.7C765.3,414 766.7,413.1 768,412C769.3,411 770.7,409.9 772,408.9C773.3,407.9 774.7,407 776,406.1C777.3,405.2 778.7,404.4 780,403.8C781.3,403.2 782.7,402.8 784,402.7C785.3,402.6 786.7,402.7 788,403.1C789.3,403.5 790.7,404.3 792,405.2C793.3,406.1 794.7,407.2 796,408.3C797.3,409.5 798.7,410.8 800,412.2C801.3,413.6 802.7,414.9 804,416.1C805.3,417.3 806.7,418.4 808,419.3C809.3,420.2 810.7,420.8 812,421.2C813.3,421.5 814.7,421.7 816,421.9C817.3,422.1 818.7,422.2 820,422.3C821.3,422.3 822.7,422.2 824,422.2C825.3,422.1 826.7,422 828,421.9C829.3,421.9 830.7,421.8 832,421.8C832.8,421.8 833.7,421.8 834.5,421.8"/>
<path d="M474,150.6C474.7,151.8 475.3,153.4 476,155.4C476.7,157.4 477.3,159.6 478,161.8C478.7,164 479.3,166.2 480,168.5C480.7,170.7 481.3,173 482,175.2C482.7,177.4 483.3,179.7 484,181.8C484.7,184 485.3,186.2 486,188.3C486.7,190.4 487.3,192.6 488,194.7C488.7,196.8 489.3,198.9 490,200.9C490.7,203 491.3,204.9 492,206.8C492.7,208.7 493.3,210.6 494,212.3C494.7,214 495.3,215.6 496,217.2C496.7,218.7 497.3,220.2 498,221.7C498.7,223.1 499.3,224.5 500,225.9C501.3,228.5 502.7,230.9 504,233.1C505.3,235.3 506.7,237.3 508,239.2C509.3,241.2 510.7,243 512,244.4C513.3,245.9 514.7,246.9 516,247.8C517.3,248.7 518.7,249.5 520,250.1C521.3,250.7 522.7,251.2 524,251.4C525.3,251.6 526.7,251.7 528,251.7C529.3,251.8 530.7,251.8 532,251.9C533.3,251.9 534.7,252 536,252C537.3,252.1 538.7,252.1 540,252.1C541.3,252.1 542.7,252.1 544,252.1C545.3,252.1 546.7,252.1 548,252.1C549.3,252.1 550.7,252.1 552,252.1C553.3,252.1 554.7,252.1 556,252.3C557.3,252.5 558.7,252.8 560,253.3C561.3,253.7 562.7,254.3 564,255.1C565.3,256 566.7,257.2 568,258.9C569.3,260.5 570.7,262.4 572,264.5C573.3,266.7 574.7,269.3 576,272C577.3,274.7 578.7,277.3 580,279.5C581.3,281.7 582.7,283.6 584,285.4C585.3,287.2 586.7,288.9 588,290.5C589.3,292.1 590.7,293.5 592,294.9C593.3,296.2 594.7,297.5 596,298.8C597.3,300.1 598.7,301.4 600,302.9C601.3,304.3 602.7,305.8 604,307.3C605.3,308.8 606.7,310.3 608,311.9C609.3,313.4 610.7,315 612,316.7C613.3,318.3 614.7,320.1 616,321.7C617.3,323.4 618.7,325 620,326.5C621.3,328 622.7,329.4 624,330.8C625.3,332.2 626.7,333.6 628,335.2C629.3,336.8 630.7,338.5 632,340.1C633.3,341.8 634.7,343.3 636,344.8C637.3,346.2 638.7,347.6 640,348.8C641.3,350.1 642.7,351.3 644,352.2C645.3,353.2 646.7,353.8 648,354.4C649.3,355 650.7,355.4 652,355.9C653.3,356.3 654.7,356.7 656,357C657.3,357.3 658.7,357.5 660,357.7C661.3,357.8 662.7,357.9 664,358C665.3,358 666.7,358 668,357.8C669.3,357.6 670.7,357.2 672,356.6C673.3,355.9 674.7,355.2 676,354.3C677.3,353.5 678.7,352.7 680,351.9C681.3,351.1 682.7,350.5 684,349.8C685.3,349.1 686.7,348.4 688,347.8C689.3,347.3 690.7,346.9 692,346.8C693.3,346.7 694.7,346.9 696,347.3C697.3,347.6 698.7,348.1 700,348.6C701.3,349.1 702.7,349.6 704,350.1C705.3,350.7 706.7,351.3 708,352C709.3,352.6 710.7,353.2 712,353.8C713.3,354.5 714.7,355.1 716,355.6C717.3,356.1 718.7,356.7 720,357.2C721.3,357.7 722.7,358.2 724,358.6C725.3,359.1 726.7,359.5 728,359.9C729.3,360.3 730.7,360.7 732,361C733.3,361.3 734.7,361.6 736,361.9C737.3,362.2 738.7,362.4 740,362.7C741.3,362.9 742.7,363.1 744,363.2C745.3,363.3 746.7,363.4 748,363.4C749.3,363.4 750.7,363.2 752,363.1C753.3,362.9 754.7,362.6 756,362.3C757.3,362 758.7,361.7 760,361.3C761.3,360.8 762.7,360.3 764,359.7C765.3,359 766.7,358.4 768,357.7C769.3,357 770.7,356.3 772,355.6C773.3,355 774.7,354.2 776,353.5C777.3,352.8 778.7,352.1 780,351.5C781.3,351 782.7,350.6 784,350.3C785.3,350 786.7,350 788,350.1C789.3,350.2 790.7,350.6 792,351.1C793.3,351.6 794.7,352.3 796,353C797.3,353.7 798.7,354.5 800,355.3C801.3,356.2 802.7,357.2 804,358.1C805.3,359.1 806.7,359.9 808,360.5C809.3,361 810.7,361.3 812,361.6C813.3,361.9 814.7,362.1 816,362.3C817.3,362.5 818.7,362.6 820,362.6C821.3,362.6 822.7,362.5 824,362.5C825.3,362.4 826.7,362.3 828,362.2C829.3,362.2 830.7,362.1 832,362.1C832.8,362.1 833.7,362.1 834.5,362.1"/>
<path d="M474,62.3C474.7,63.5 475.3,65.3 476,67.4C476.7,69.5 477.3,71.9 478,74.3C478.7,76.7 479.3,79.1 480,81.5C480.7,84 481.3,86.4 482,88.8C482.7,91.3 483.3,93.7 484,96.1C484.7,98.5 485.3,100.9 486,103.1C486.7,105.4 487.3,107.6 488,109.7C488.7,111.8 489.3,113.8 490,115.8C490.7,117.8 491.3,119.8 492,121.7C492.7,123.7 493.3,125.6 494,127.4C494.7,129.3 495.3,131.2 496,133.1C496.7,134.9 497.3,136.8 498,138.6C498.7,140.4 499.3,142.2 500,143.9C501.3,147.3 502.7,150.5 504,153.5C505.3,156.6 506.7,159.5 508,162.2C509.3,164.9 510.7,167.3 512,169.3C513.3,171.4 514.7,173.2 516,174.9C517.3,176.6 518.7,178.1 520,179.2C521.3,180.4 522.7,181.3 524,182C525.3,182.8 526.7,183.5 528,184C529.3,184.6 530.7,185 532,185.2C533.3,185.4 534.7,185.5 536,185.7C537.3,185.8 538.7,185.8 540,185.8C541.3,185.7 542.7,185.6 544,185.4C545.3,185.1 546.7,184.8 548,184.3C549.3,183.9 550.7,183.3 552,182.8C553.3,182.3 554.7,181.8 556,181.3C557.3,180.8 558.7,180.2 560,179.7C561.3,179.2 562.7,178.8 564,179C565.3,179.2 566.7,180.2 568,181.7C569.3,183.2 570.7,185.1 572,187.4C573.3,189.8 574.7,192.6 576,195.1C577.3,197.7 578.7,200.1 580,202.5C581.3,204.8 582.7,207.1 584,209.4C585.3,211.7 586.7,214 588,216.2C589.3,218.4 590.7,220.5 592,222.7C593.3,224.8 594.7,226.9 596,229C597.3,231.1 598.7,233.2 600,235.2C601.3,237.3 602.7,239.3 604,241.3C605.3,243.3 606.7,245.3 608,247.3C609.3,249.4 610.7,251.4 612,253.5C613.3,255.6 614.7,257.7 616,259.7C617.3,261.8 618.7,263.8 620,265.7C621.3,267.6 622.7,269.4 624,271.2C625.3,272.9 626.7,274.5 628,276C629.3,277.6 630.7,279.1 632,280.5C633.3,281.9 634.7,283 636,283.8C637.3,284.6 638.7,285.2 640,285.6C641.3,286.1 642.7,286.4 644,286.7C645.3,287 646.7,287.2 648,287.2C649.3,287.3 650.7,287.2 652,287.1C653.3,287.1 654.7,287 656,287C657.3,287 658.7,287.1 660,287.4C661.3,287.7 662.7,288.2 664,288.8C665.3,289.3 666.7,289.9 668,290.5C669.3,291.1 670.7,291.5 672,291.9C673.3,292.3 674.7,292.5 676,292.8C677.3,293.1 678.7,293.3 680,293.6C681.3,293.8 682.7,294 684,294.2C685.3,294.4 686.7,294.6 688,294.7C689.3,294.8 690.7,295 692,295.2C693.3,295.4 694.7,295.8 696,296.6C697.3,297.4 698.7,298.6 700,299.7C701.3,300.8 702.7,301.8 704,302.7C705.3,303.7 706.7,304.6 708,305.5C709.3,306.4 710.7,307.3 712,308.1C713.3,308.8 714.7,309.5 716,310.1C717.3,310.7 718.7,311.3 720,311.8C721.3,312.4 722.7,312.9 724,313.4C725.3,313.8 726.7,314.3 728,314.8C729.3,315.3 730.7,315.8 732,316.3C733.3,316.7 734.7,317.2 736,317.6C737.3,318 738.7,318.4 740,318.7C741.3,319.1 742.7,319.4 744,319.7C745.3,320 746.7,320.2 748,320.5C749.3,320.7 750.7,320.9 752,321C753.3,321.2 754.7,321.2 756,321.2C757.3,321.3 758.7,321.2 760,321.1C761.3,321 762.7,320.8 764,320.5C765.3,320.2 766.7,319.7 768,319.2C769.3,318.7 770.7,318.2 772,317.6C773.3,317.1 774.7,316.5 776,315.8C777.3,315.1 778.7,314.3 780,313.6C781.3,312.8 782.7,312.2 784,311.9C785.3,311.6 786.7,311.6 788,311.7C789.3,311.8 790.7,312.1 792,312.6C793.3,313 794.7,313.6 796,314.3C797.3,314.9 798.7,315.6 800,316.2C801.3,316.8 802.7,317.3 804,317.7C805.3,318.2 806.7,318.7 808,319.1C809.3,319.4 810.7,319.7 812,319.8C813.3,320 814.7,320.1 816,320.2C817.3,320.3 818.7,320.3 820,320.3C821.3,320.3 822.7,320.2 824,320C825.3,319.9 826.7,319.7 828,319.6C829.3,319.5 830.7,319.3 832,319.3C832.8,319.3 833.7,319.3 834.5,319.3"/>
<path d="M474,15.6C474.7,17 475.3,19 476,21.2C476.7,23.5 477.3,26 478,28.3C478.7,30.7 479.3,33 480,35.3C480.7,37.6 481.3,40 482,42.4C482.7,44.9 483.3,47.4 484,49.9C484.7,52.4 485.3,54.9 486,57.3C486.7,59.8 487.3,62.2 488,64.6C488.7,67 489.3,69.4 490,71.7C490.7,74 491.3,76.2 492,78.4C492.7,80.6 493.3,82.7 494,84.8C494.7,86.9 495.3,89 496,91C496.7,93.1 497.3,95 498,97C498.7,98.9 499.3,100.8 500,102.4C501.3,105.7 502.7,107.6 504,109.1C505.3,110.7 506.7,112.9 508,115.7C509.3,118.5 510.7,121.7 512,124.4C513.3,127.1 514.7,129.4 516,131.2C517.3,132.9 518.7,134.2 520,135.1C521.3,136 522.7,136.6 524,137.1C525.3,137.6 526.7,137.9 528,138.2C529.3,138.5 530.7,138.8 532,138.9C533.3,139 534.7,139 536,138.8C537.3,138.7 538.7,138.5 540,138.3C541.3,138 542.7,137.7 544,137.4C545.3,137.1 546.7,136.6 548,136.1C549.3,135.5 550.7,134.9 552,134.2C553.3,133.5 554.7,132.7 556,132C557.3,131.3 558.7,130.6 560,130.1C561.3,129.7 562.7,129.4 564,129.8C565.3,130.2 566.7,131.1 568,132.4C569.3,133.8 570.7,135.3 572,137.5C573.3,139.6 574.7,143.1 576,147C577.3,150.8 578.7,154.3 580,157.4C581.3,160.5 582.7,163.4 584,166.1C585.3,168.9 586.7,171.5 588,174.1C589.3,176.7 590.7,179.2 592,181.7C593.3,184.2 594.7,186.5 596,188.8C597.3,191.1 598.7,193.3 600,195.4C601.3,197.5 602.7,199.4 604,201.4C605.3,203.3 606.7,205.2 608,207C609.3,208.8 610.7,210.5 612,212.2C613.3,213.9 614.7,215.5 616,217.1C617.3,218.7 618.7,220.2 620,221.7C621.3,223.2 622.7,224.6 624,226C625.3,227.3 626.7,228.7 628,229.9C629.3,231.2 630.7,232.4 632,233.4C633.3,234.4 634.7,235.1 636,235.8C637.3,236.5 638.7,237.1 640,237.6C641.3,238.2 642.7,238.6 644,239C645.3,239.3 646.7,239.5 648,239.7C649.3,239.8 650.7,239.8 652,239.8C653.3,239.8 654.7,239.7 656,239.8C657.3,239.9 658.7,240 660,240.3C661.3,240.5 662.7,240.8 664,241.2C665.3,241.5 666.7,241.9 668,242.3C669.3,242.6 670.7,243 672,243.3C673.3,243.7 674.7,244.1 676,244.4C677.3,244.8 678.7,245.1 680,245.5C681.3,245.8 682.7,246.2 684,246.5C685.3,246.8 686.7,247.1 688,247.3C689.3,247.5 690.7,247.7 692,248.1C693.3,248.4 694.7,248.9 696,249.8C697.3,250.7 698.7,251.9 700,253C701.3,254.2 702.7,255.2 704,256.2C705.3,257.2 706.7,258.2 708,259.2C709.3,260.2 710.7,261.1 712,262C713.3,262.9 714.7,263.8 716,264.6C717.3,265.4 718.7,266.2 720,267C721.3,267.7 722.7,268.5 724,269.2C725.3,269.9 726.7,270.5 728,271.2C729.3,271.8 730.7,272.4 732,273C733.3,273.6 734.7,274.1 736,274.7C737.3,275.2 738.7,275.7 740,276.2C741.3,276.7 742.7,277.2 744,277.7C745.3,278.2 746.7,278.6 748,279C749.3,279.4 750.7,279.7 752,279.9C753.3,280.2 754.7,280.4 756,280.5C757.3,280.6 758.7,280.6 760,280.5C761.3,280.4 762.7,280.2 764,279.8C765.3,279.5 766.7,279 768,278.6C769.3,278.1 770.7,277.5 772,277C773.3,276.5 774.7,275.9 776,275.3C777.3,274.7 778.7,274 780,273.4C781.3,272.8 782.7,272.3 784,272C785.3,271.7 786.7,271.7 788,271.8C789.3,271.9 790.7,272.2 792,272.7C793.3,273.1 794.7,273.7 796,274.3C797.3,274.9 798.7,275.6 800,276.2C801.3,276.9 802.7,277.5 804,278.1C805.3,278.8 806.7,279.4 808,279.9C809.3,280.5 810.7,280.9 812,281.2C813.3,281.5 814.7,281.7 816,281.8C817.3,281.9 818.7,282 820,281.9C821.3,281.9 822.7,281.7 824,281.5C825.3,281.3 826.7,281.1 828,280.8C829.3,280.6 830.7,280.5 832,280.4C832.8,280.4 833.7,280.4 834.5,280.4"/>
<path d="M474,2.4C474.7,3.7 475.3,5.6 476,7.9C476.7,10.3 477.3,12.9 478,15.5C478.7,18.2 479.3,21 480,23.7C480.7,26.4 481.3,29.2 482,31.9C482.7,34.6 483.3,37.3 484,39.9C484.7,42.4 485.3,45 486,47.4C486.7,49.9 487.3,52.3 488,54.7C488.7,57.1 489.3,59.4 490,61.7C490.7,63.9 491.3,66.2 492,68.4C492.7,70.6 493.3,72.7 494,74.8C494.7,77 495.3,79.1 496,81.1C496.7,83.1 497.3,85.1 498,87C498.7,88.8 499.3,90.6 500,92.3C501.3,95.6 502.7,98.7 504,101.4C505.3,104.1 506.7,106.3 508,108C509.3,109.7 510.7,110.9 512,112.2C513.3,113.4 514.7,114.5 516,115.6C517.3,116.7 518.7,117.7 520,118.4C521.3,119.1 522.7,119.6 524,119.9C525.3,120.3 526.7,120.4 528,120.5C529.3,120.6 530.7,120.7 532,120.6C533.3,120.5 534.7,120.3 536,120.1C537.3,119.8 538.7,119.5 540,119.1C541.3,118.7 542.7,118.3 544,117.6C545.3,117 546.7,116.2 548,115.3C549.3,114.3 550.7,113.2 552,112.2C553.3,111.1 554.7,110 556,109C557.3,108 558.7,107 560,106.2C561.3,105.4 562.7,104.6 564,104.5C565.3,104.4 566.7,105.1 568,106.5C569.3,107.8 570.7,109.8 572,112.4C573.3,115 574.7,118.2 576,121.3C577.3,124.5 578.7,127.5 580,130.2C581.3,132.9 582.7,135.3 584,137.6C585.3,140 586.7,142.3 588,144.6C589.3,146.9 590.7,149.1 592,151.1C593.3,153.2 594.7,155.1 596,157.1C597.3,159.1 598.7,161 600,163C601.3,165 602.7,167.1 604,169.2C605.3,171.2 606.7,173.2 608,175.1C609.3,177.1 610.7,178.9 612,180.6C613.3,182.4 614.7,184.1 616,185.7C617.3,187.3 618.7,188.8 620,190.3C621.3,191.8 622.7,193.3 624,194.7C625.3,196.1 626.7,197.4 628,198.6C629.3,199.7 630.7,200.8 632,201.8C633.3,202.8 634.7,203.8 636,204.5C637.3,205.2 638.7,205.7 640,205.9C641.3,206.2 642.7,206.4 644,206.5C645.3,206.6 646.7,206.7 648,206.6C649.3,206.6 650.7,206.5 652,206.3C653.3,206.2 654.7,206 656,206C657.3,205.9 658.7,205.9 660,206C661.3,206.2 662.7,206.5 664,207C665.3,207.4 666.7,207.9 668,208.4C669.3,208.9 670.7,209.4 672,209.7C673.3,210.1 674.7,210.4 676,210.8C677.3,211.1 678.7,211.4 680,211.7C681.3,212 682.7,212.3 684,212.6C685.3,212.9 686.7,213.2 688,213.4C689.3,213.6 690.7,213.9 692,214.2C693.3,214.5 694.7,214.8 696,215.4C697.3,215.9 698.7,216.6 700,217.3C701.3,218.1 702.7,218.8 704,219.5C705.3,220.2 706.7,220.9 708,221.4C709.3,222 710.7,222.6 712,223.1C713.3,223.6 714.7,224.1 716,224.6C717.3,225.1 718.7,225.6 720,226C721.3,226.5 722.7,226.9 724,227.3C725.3,227.7 726.7,228.2 728,228.5C729.3,228.9 730.7,229.3 732,229.7C733.3,230.1 734.7,230.4 736,230.7C737.3,231.1 738.7,231.4 740,231.7C741.3,232.1 742.7,232.4 744,232.7C745.3,233 746.7,233.3 748,233.5C749.3,233.8 750.7,234 752,234.1C753.3,234.2 754.7,234.3 756,234.3C757.3,234.2 758.7,234.1 760,234C761.3,233.8 762.7,233.6 764,233.2C765.3,232.9 766.7,232.4 768,231.9C769.3,231.5 770.7,230.9 772,230.4C773.3,229.9 774.7,229.3 776,228.7C777.3,228 778.7,227.3 780,226.7C781.3,226 782.7,225.5 784,225.2C785.3,225 786.7,224.9 788,225.1C789.3,225.3 790.7,225.7 792,226.2C793.3,226.7 794.7,227.3 796,228C797.3,228.8 798.7,229.5 800,230.2C801.3,230.9 802.7,231.5 804,232.1C805.3,232.8 806.7,233.4 808,233.9C809.3,234.5 810.7,234.9 812,235.2C813.3,235.6 814.7,235.9 816,236.1C817.3,236.3 818.7,236.5 820,236.5C821.3,236.6 822.7,236.5 824,236.4C825.3,236.3 826.7,236.1 828,236C829.3,235.9 830.7,235.8 832,235.8C832.8,235.8 833.7,235.8 834.5,235.8"/>
<path d="M480,0.2C480.7,1.9 481.3,4.2 482,6.8C482.7,9.5 483.3,12.3 484,15C484.7,17.7 485.3,20.4 486,23.1C486.7,25.7 487.3,28.3 488,30.7C488.7,33.2 489.3,35.6 490,37.8C490.7,40.1 491.3,42.2 492,44.3C492.7,46.4 493.3,48.4 494,50.3C494.7,52.2 495.3,54 496,55.8C496.7,57.5 497.3,59.1 498,60.7C498.7,62.3 499.3,63.8 500,65.2C501.3,68.2 502.7,71 504,73.5C505.3,76.1 506.7,78.4 508,80.4C509.3,82.5 510.7,84.1 512,85.4C513.3,86.7 514.7,87.6 516,88.2C517.3,88.7 518.7,89 520,89.3C521.3,89.7 522.7,90.1 524,90.4C525.3,90.7 526.7,90.9 528,91C529.3,91 530.7,91 532,90.9C533.3,90.8 534.7,90.7 536,90.4C537.3,90.2 538.7,89.9 540,89.4C541.3,88.9 542.7,88.1 544,87.3C545.3,86.5 546.7,85.6 548,84.7C549.3,83.7 550.7,82.7 552,81.8C553.3,80.8 554.7,79.9 556,79C557.3,78.2 558.7,77.4 560,76.8C561.3,76.1 562.7,75.7 564,75.7C565.3,75.8 566.7,76.5 568,77.8C569.3,79.1 570.7,81.2 572,83.8C573.3,86.5 574.7,89.6 576,92.7C577.3,95.9 578.7,98.9 580,101.6C581.3,104.3 582.7,106.7 584,108.9C585.3,111.1 586.7,113.2 588,115.2C589.3,117.2 590.7,119.2 592,121.1C593.3,123 594.7,124.7 596,126.4C597.3,128 598.7,129.5 600,131.1C601.3,132.8 602.7,134.5 604,136.3C605.3,138.2 606.7,140.3 608,142.6C609.3,144.9 610.7,147.3 612,149.3C613.3,151.4 614.7,153.1 616,154.8C617.3,156.4 618.7,158 620,159.6C621.3,161.2 622.7,162.9 624,164.4C625.3,166 626.7,167.5 628,168.6C629.3,169.8 630.7,170.8 632,171.6C633.3,172.5 634.7,173.2 636,173.8C637.3,174.3 638.7,174.6 640,174.8C641.3,175 642.7,175.1 644,175.1C645.3,175.1 646.7,175.1 648,174.9C649.3,174.8 650.7,174.5 652,174.2C653.3,173.9 654.7,173.5 656,173.1C657.3,172.8 658.7,172.5 660,172.2C661.3,172 662.7,171.9 664,171.9C665.3,171.9 666.7,172 668,172.6C669.3,173.2 670.7,174.6 672,175.7C673.3,176.8 674.7,177.4 676,177.8C677.3,178.2 678.7,178.4 680,178.4C681.3,178.4 682.7,178.2 684,178.1C685.3,178 686.7,178 688,178.2C689.3,178.4 690.7,178.7 692,179.1C693.3,179.5 694.7,179.9 696,180.5C697.3,181.1 698.7,181.8 700,182.5C701.3,183.2 702.7,183.9 704,184.6C705.3,185.3 706.7,186 708,186.6C709.3,187.2 710.7,187.8 712,188.4C713.3,189 714.7,189.6 716,190.1C717.3,190.7 718.7,191.2 720,191.6C721.3,192.1 722.7,192.5 724,192.9C725.3,193.2 726.7,193.6 728,193.9C729.3,194.2 730.7,194.6 732,194.9C733.3,195.2 734.7,195.5 736,195.9C737.3,196.2 738.7,196.5 740,196.9C741.3,197.3 742.7,197.6 744,198C745.3,198.3 746.7,198.7 748,199C749.3,199.3 750.7,199.5 752,199.7C753.3,199.9 754.7,200 756,200.1C757.3,200.1 758.7,200 760,199.9C761.3,199.7 762.7,199.5 764,199.1C765.3,198.7 766.7,198.1 768,197.5C769.3,196.9 770.7,196.3 772,195.7C773.3,195 774.7,194.3 776,193.6C777.3,192.8 778.7,191.9 780,191.2C781.3,190.4 782.7,189.8 784,189.4C785.3,189.1 786.7,189 788,189.1C789.3,189.3 790.7,189.6 792,190.1C793.3,190.6 794.7,191.2 796,191.9C797.3,192.6 798.7,193.4 800,194C801.3,194.7 802.7,195.3 804,195.8C805.3,196.4 806.7,197 808,197.5C809.3,197.9 810.7,198.3 812,198.6C813.3,198.9 814.7,199.1 816,199.3C817.3,199.5 818.7,199.6 820,199.7C821.3,199.7 822.7,199.6 824,199.6C825.3,199.5 826.7,199.4 828,199.3C829.3,199.3 830.7,199.2 832,199.2C832.8,199.2 833.7,199.2 834.5,199.2"/>
<path d="M492,-1.7C492.7,-1 493.3,0 494,1.3C494.7,2.6 495.3,4.1 496,5.7C496.7,7.2 497.3,8.7 498,10.2C498.7,11.6 499.3,13 500,14.4C501.3,17 502.7,19.3 504,21.5C505.3,23.8 506.7,25.9 508,27.7C509.3,29.5 510.7,31 512,32.3C513.3,33.5 514.7,34.6 516,35.5C517.3,36.4 518.7,37.1 520,37.7C521.3,38.3 522.7,38.7 524,39C525.3,39.3 526.7,39.5 528,39.6C529.3,39.7 530.7,39.7 532,39.7C533.3,39.7 534.7,39.7 536,39.6C537.3,39.6 538.7,39.5 540,39.5C541.3,39.4 542.7,39.3 544,39.3C545.3,39.2 546.7,39.1 548,39.1C549.3,39 550.7,39 552,39.1C553.3,39.1 554.7,39.1 556,39.2C557.3,39.3 558.7,39.6 560,40.1C561.3,40.5 562.7,41.1 564,42C565.3,43 566.7,44.4 568,46C569.3,47.6 570.7,49.6 572,51.7C573.3,53.7 574.7,55.8 576,57.9C577.3,60 578.7,62.1 580,64.1C581.3,66.1 582.7,67.9 584,69.6C585.3,71.3 586.7,72.9 588,74.4C589.3,76 590.7,77.5 592,78.9C593.3,80.4 594.7,81.7 596,83C597.3,84.2 598.7,85.4 600,86.6C601.3,87.8 602.7,89.1 604,90.4C605.3,91.7 606.7,93 608,94.5C609.3,96 610.7,97.6 612,99.3C613.3,101 614.7,102.8 616,104.7C617.3,106.6 618.7,108.5 620,110.4C621.3,112.2 622.7,114.1 624,116C625.3,117.9 626.7,119.9 628,121.9C629.3,123.9 630.7,125.9 632,127.7C633.3,129.6 634.7,131.3 636,133C637.3,134.7 638.7,136.4 640,138C641.3,139.5 642.7,141 644,142.2C645.3,143.5 646.7,144.5 648,145.4C649.3,146.3 650.7,147.1 652,147.8C653.3,148.5 654.7,149.1 656,149.7C657.3,150.2 658.7,150.7 660,151.1C661.3,151.5 662.7,151.8 664,152.2C665.3,152.5 666.7,152.8 668,152.9C669.3,153 670.7,152.9 672,152.7C673.3,152.4 674.7,151.9 676,151.3C677.3,150.7 678.7,150 680,149.3C681.3,148.7 682.7,148.1 684,147.5C685.3,146.9 686.7,146.2 688,145.7C689.3,145.1 690.7,144.6 692,144.4C693.3,144.3 694.7,144.4 696,144.8C697.3,145.2 698.7,145.8 700,146.4C701.3,147 702.7,147.6 704,148.3C705.3,148.9 706.7,149.6 708,150.3C709.3,151 710.7,151.7 712,152.4C713.3,153.1 714.7,153.7 716,154.4C717.3,155 718.7,155.6 720,156.2C721.3,156.8 722.7,157.4 724,158C725.3,158.6 726.7,159.1 728,159.7C729.3,160.2 730.7,160.7 732,161.2C733.3,161.8 734.7,162.3 736,162.8C737.3,163.2 738.7,163.7 740,164.1C741.3,164.6 742.7,164.9 744,165.2C745.3,165.6 746.7,165.8 748,166C749.3,166.2 750.7,166.3 752,166.4C753.3,166.4 754.7,166.3 756,166.1C757.3,165.9 758.7,165.5 760,164.9C761.3,164.4 762.7,163.7 764,162.9C765.3,162.1 766.7,161.3 768,160.5C769.3,159.7 770.7,158.9 772,158C773.3,157.1 774.7,156.2 776,155.3C777.3,154.5 778.7,153.8 780,153.2C781.3,152.6 782.7,152 784,151.7C785.3,151.3 786.7,151.1 788,151.3C789.3,151.4 790.7,151.9 792,152.5C793.3,153.1 794.7,153.9 796,154.7C797.3,155.5 798.7,156.5 800,157.6C801.3,158.6 802.7,159.7 804,160.7C805.3,161.7 806.7,162.5 808,163.3C809.3,164 810.7,164.7 812,165.2C813.3,165.8 814.7,166.2 816,166.5C817.3,166.8 818.7,166.9 820,167.1C821.3,167.3 822.7,167.5 824,167.6C825.3,167.7 826.7,167.9 828,167.9C829.3,168 830.7,168.1 832,168.1C832.8,168.1 833.7,168.1 834.5,168.1"/>
<path d="M498.5,-2.1C499.2,-1.6 499.8,-0.9 500.5,-0C501.8,1.8 503.2,4 504.5,5.8C505.8,7.5 507.2,9 508.5,10.5C509.8,11.9 511.2,13.2 512.5,14.3C513.8,15.4 515.2,16.3 516.5,17C517.8,17.7 519.2,18.1 520.5,18.5C521.8,18.8 523.2,19 524.5,19.1C525.8,19.2 527.2,19.2 528.5,19.2C529.8,19.2 531.2,19.2 532.5,19.1C533.8,19 535.2,18.8 536.5,18.7C537.8,18.6 539.2,18.4 540.5,18.3C541.8,18.2 543.2,18.1 544.5,17.9C545.8,17.8 547.2,17.7 548.5,17.5C549.8,17.4 551.2,17.3 552.5,17.2C553.8,17.1 555.2,17.1 556.5,17.3C557.8,17.5 559.2,17.8 560.5,18.5C561.8,19.2 563.2,20.3 564.5,21.3C565.8,22.3 567.2,23.4 568.5,24.9C569.8,26.4 571.2,28.1 572.5,30.2C573.8,32.4 575.2,35.1 576.5,37.9C577.8,40.6 579.2,43.2 580.5,45.6C581.8,48 583.2,50.2 584.5,52.3C585.8,54.4 587.2,56.3 588.5,57.9C589.8,59.6 591.2,61 592.5,62.4C593.8,63.7 595.2,64.9 596.5,66.1C597.8,67.3 599.2,68.4 600.5,69.7C601.8,70.9 603.2,72.2 604.5,73.5C605.8,74.9 607.2,76.3 608.5,77.8C609.8,79.3 611.2,80.9 612.5,82.4C613.8,84 615.2,85.5 616.5,87C617.8,88.5 619.2,90 620.5,91.5C621.8,92.9 623.2,94.4 624.5,96C625.8,97.6 627.2,99.5 628.5,101.3C629.8,103.2 631.2,105 632.5,106.4C633.8,107.9 635.2,109 636.5,109.9C637.8,110.9 639.2,111.7 640.5,112.4C641.8,113.1 643.2,113.7 644.5,114.3C645.8,114.8 647.2,115.2 648.5,115.5C649.8,115.9 651.2,116.3 652.5,116.6C653.8,117 655.2,117.2 656.5,117.4C657.8,117.7 659.2,117.8 660.5,117.8C661.8,117.8 663.2,117.8 664.5,117.7C665.8,117.5 667.2,117.4 668.5,117.1C669.8,116.9 671.2,116.6 672.5,116.3C673.8,115.9 675.2,115.4 676.5,114.7C677.8,114 679.2,113.1 680.5,112.2C681.8,111.4 683.2,110.6 684.5,110.1C685.8,109.6 687.2,109.1 688.5,108.8C689.8,108.5 691.2,108.4 692.5,108.5C693.8,108.5 695.2,108.9 696.5,109.2C697.8,109.6 699.2,110.1 700.5,110.5C701.8,110.9 703.2,111.4 704.5,111.8C705.8,112.2 707.2,112.6 708.5,113.1C709.8,113.5 711.2,114 712.5,114.4C713.8,114.8 715.2,115.3 716.5,115.7C717.8,116.2 719.2,116.6 720.5,117.1C721.8,117.6 723.2,118.1 724.5,118.5C725.8,119 727.2,119.5 728.5,119.9C729.8,120.3 731.2,120.7 732.5,121C733.8,121.4 735.2,121.7 736.5,122C737.8,122.3 739.2,122.6 740.5,122.8C741.8,123 743.2,123.2 744.5,123.3C745.8,123.4 747.2,123.3 748.5,123.3C749.8,123.2 751.2,123 752.5,122.8C753.8,122.6 755.2,122.4 756.5,122.1C757.8,121.8 759.2,121.4 760.5,120.9C761.8,120.4 763.2,119.9 764.5,119.3C765.8,118.6 767.2,118 768.5,117.3C769.8,116.6 771.2,115.8 772.5,114.9C773.8,114 775.2,113.1 776.5,112.3C777.8,111.5 779.2,110.9 780.5,110.4C781.8,109.9 783.2,109.5 784.5,109.3C785.8,109.1 787.2,109.2 788.5,109.4C789.8,109.6 791.2,110 792.5,110.5C793.8,111 795.2,111.6 796.5,112.2C797.8,112.9 799.2,113.7 800.5,114.5C801.8,115.4 803.2,116.4 804.5,117.2C805.8,118 807.2,118.7 808.5,119.3C809.8,120 811.2,120.6 812.5,121.1C813.8,121.6 815.2,121.9 816.5,122.1C817.8,122.2 819.2,122.3 820.5,122.4C821.8,122.5 823.2,122.5 824.5,122.6C825.8,122.7 827.2,122.7 828.5,122.8C829.8,122.8 831.2,122.8 832.5,122.8C833.2,122.8 833.8,122.8 834.5,122.8"/>
</g>
<g stroke="#000" stroke-width="1.4" stroke-dasharray="2.2 3" fill="none">
<path d="M564.2,23.7 V396"/>
<path d="M610.4,83.5 V455"/>
<path d="M658.6,41.7 V285"/>
<path d="M695.5,79.7 V472"/>
<path d="M786.9,90.9 V482.5"/>
</g>
<path d="M122.3,108 L172.4,199" stroke="#000" stroke-width="1.25" fill="none"/>
<g fill="none" stroke="#000" stroke-linecap="butt">
<path stroke-width="2.65" d="M61,4.7 H432.1 M61,509.4 H432.1"/>
<path stroke-width="3.0" d="M62.5,4.7 V509.4 M430.6,4.7 V509.4"/>
<path stroke-width="2.65" d="M476.4,4.7 H832.2 M476.4,509.4 H832.2"/>
<path stroke-width="3.0" d="M477.9,4.7 V509.4 M830.8,4.7 V509.4"/>
<path stroke-width="2.9" d="M62.5,509.4 v15.1M246.6,509.4 v15.1M430.6,509.4 v15.1M154.5,509.4 v7.6M338.6,509.4 v7.6M512.9,509.4 v15.1M583.8,509.4 v15.1M654.5,509.4 v15.1M725,509.4 v15.1M795.8,509.4 v15.1"/>
</g>
<g font-family="'Liberation Sans', Arial, Helvetica, sans-serif" fill="#000">
<g font-size="37" text-anchor="middle" letter-spacing="-1.7">
<text x="62.6" y="560.2">4000</text>
<text x="247.4" y="560.2">3500</text>
<text x="431.5" y="560.2">3000</text>
<text x="512.8" y="560.2">950</text>
<text x="583.6" y="560.2">900</text>
<text x="654.4" y="560.2">850</text>
<text x="724.9" y="560.2">800</text>
<text x="795.6" y="560.2">750</text>
</g>
<g font-size="34" text-anchor="middle">
<text x="416.1" y="138.8">j</text>
<text x="416.2" y="192.9">i</text>
<text x="416.3" y="232.2">h</text>
<text x="415.1" y="261.8">g</text>
<text x="413.2" y="303.7">f</text>
<text x="416.3" y="336.3">e</text>
<text x="414.8" y="376.3">d</text>
<text x="413.6" y="412.8">c</text>
<text x="414.9" y="451.5">b</text>
<text x="414" y="484.4">a</text>
<text x="816.5" y="106.8">j</text>
<text x="815.6" y="157.6">i</text>
<text x="816.3" y="192.4">h</text>
<text x="814.7" y="221.8">g</text>
<text x="813.5" y="272.5">f</text>
<text x="815.4" y="311.1">e</text>
<text x="814" y="352.8">d</text>
<text x="813.9" y="409.2">c</text>
<text x="814.4" y="452.4">b</text>
<text x="814" y="492">a</text>
</g>
<g font-size="28" text-anchor="middle" letter-spacing="-2.8">
<text x="200.3" y="31.6">3625</text>
<text x="117.2" y="101.4">3699</text>
<text x="268.8" y="113.9">3420</text>
<text x="659.7" y="34.8">845</text>
<text x="699.3" y="75">820</text>
<text x="787.4" y="83.3">756</text>
<text x="566" y="424.2">914</text>
<text x="612.8" y="482">880</text>
</g>
<text x="251.4" y="623" font-size="50.7" letter-spacing="-0.5" id="xl">Wavenumber (cm<tspan font-size="24" dy="-25.2" dx="1.5" letter-spacing="-0.3">-1</tspan><tspan dy="25.2" dx="2.5">)</tspan></text>
<text transform="translate(37.3,386.2) rotate(-90)" font-size="50.4" letter-spacing="-0.3" id="yl">Absorbance</text>
</g>
</svg>
</body></html>
